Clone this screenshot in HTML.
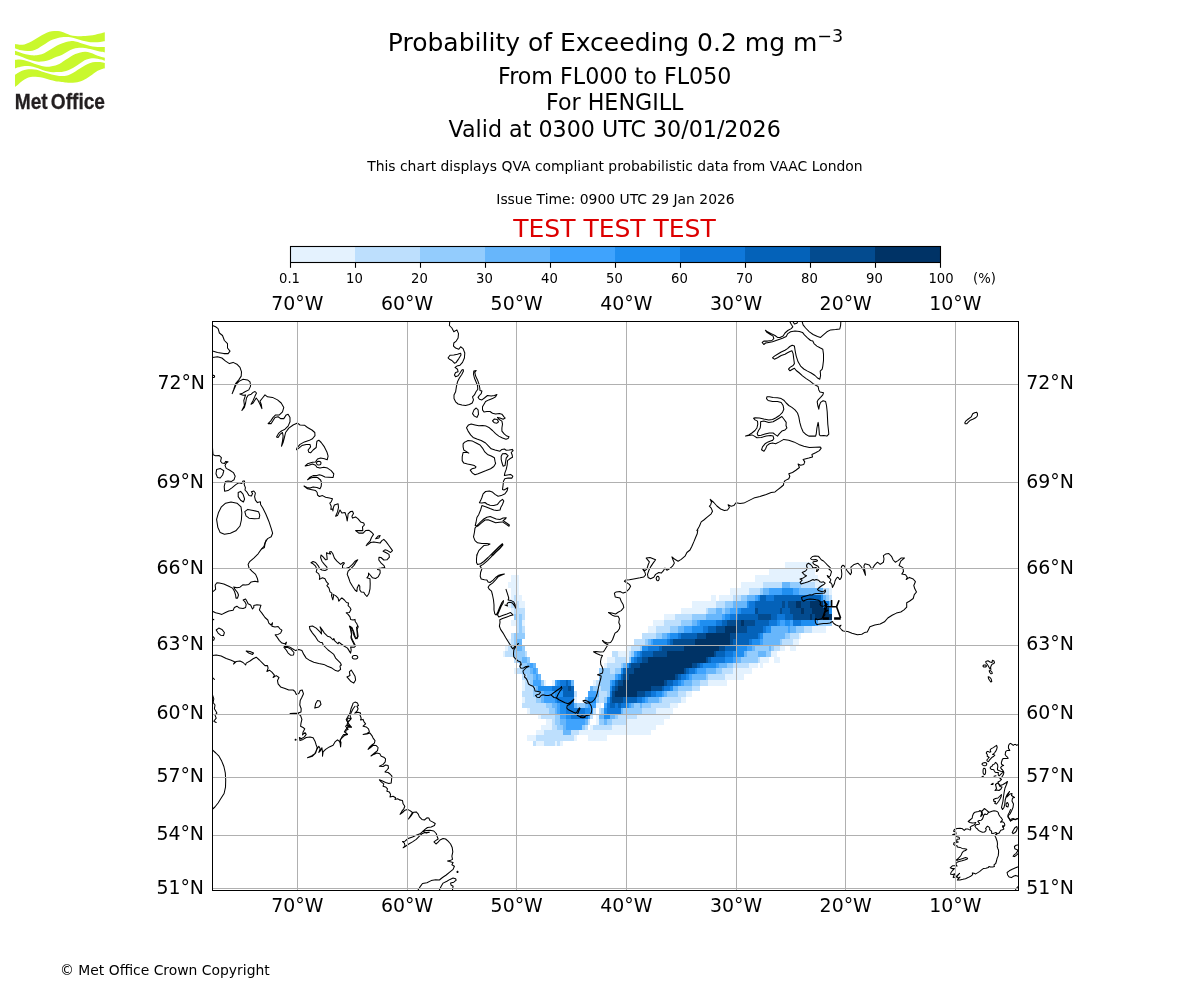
<!DOCTYPE html>
<html lang="en"><head><meta charset="utf-8"><title>Probability of Exceeding 0.2 mg m-3</title>
<style>
html,body{margin:0;padding:0;background:#fff;}
body{width:1200px;height:1000px;overflow:hidden;}
svg{display:block;}
text{font-family:"DejaVu Sans", "Liberation Sans", sans-serif;fill:#000;}
.c{text-anchor:middle;}
.r{text-anchor:end;}
.t1{font-size:25px;}
.t2{font-size:22.2px;}
.t3{font-size:13.9px;}
.tk{font-size:13.2px;}
.ax{font-size:18.9px;}
.grid line{stroke:#b0b0b0;stroke-width:1;}
.coast path{fill:none;stroke:#000;stroke-width:1.05;stroke-linejoin:round;stroke-linecap:round;}
</style></head><body>
<svg width="1200" height="1000" viewBox="0 0 1200 1000">
<rect width="1200" height="1000" fill="#fff"/>
<path d="M14.98 44.12C15.72 44.22 17.87 44.69 19.44 44.74C21.01 44.79 22.75 44.79 24.40 44.43C26.05 44.07 27.71 43.34 29.36 42.57C31.01 41.79 32.67 40.76 34.32 39.78C35.97 38.80 37.63 37.66 39.28 36.68C40.93 35.70 42.58 34.70 44.24 33.89C45.89 33.08 47.54 32.33 49.20 31.84C50.85 31.36 52.69 31.10 54.16 30.98C55.62 30.85 56.74 30.96 58.00 31.10C59.26 31.24 60.38 31.43 61.72 31.84C63.06 32.26 64.61 33.03 66.06 33.58C67.51 34.13 68.85 34.74 70.40 35.13C71.95 35.52 73.71 35.76 75.36 35.94C77.01 36.11 78.67 36.16 80.32 36.18C81.97 36.20 83.63 36.16 85.28 36.06C86.93 35.96 88.58 35.79 90.24 35.56C91.89 35.34 93.54 35.03 95.20 34.70C96.85 34.36 98.56 33.97 100.16 33.58C101.76 33.19 104.03 32.55 104.81 32.34L104.81 41.33C104.03 41.43 101.76 41.79 100.16 41.95C98.56 42.10 96.85 42.23 95.20 42.26C93.54 42.29 91.89 42.29 90.24 42.14C88.58 41.98 86.93 41.67 85.28 41.33C83.63 40.99 81.97 40.55 80.32 40.09C78.67 39.62 77.01 39.00 75.36 38.54C73.71 38.07 71.95 37.56 70.40 37.30C68.85 37.04 67.51 37.01 66.06 36.99C64.61 36.97 63.08 37.02 61.72 37.18C60.36 37.33 59.34 37.54 57.88 37.92C56.41 38.30 54.57 38.80 52.92 39.47C51.26 40.14 49.61 40.97 47.96 41.95C46.30 42.93 44.65 44.27 43.00 45.36C41.34 46.44 39.79 47.58 38.04 48.46C36.28 49.34 34.22 50.19 32.46 50.63C30.70 51.06 29.36 51.11 27.50 51.06C25.64 51.01 23.39 50.80 21.30 50.32C19.21 49.83 16.03 48.51 14.98 48.15ZM14.98 50.63C15.82 50.94 18.28 51.87 20.06 52.49C21.84 53.11 23.78 53.88 25.64 54.35C27.50 54.81 29.36 55.12 31.22 55.28C33.08 55.43 35.04 55.43 36.80 55.28C38.56 55.12 40.10 54.92 41.76 54.35C43.41 53.78 45.06 52.80 46.72 51.87C48.37 50.94 50.02 49.80 51.68 48.77C53.33 47.74 54.96 46.55 56.64 45.67C58.31 44.79 60.15 44.12 61.72 43.50C63.29 42.88 64.61 42.34 66.06 41.95C67.51 41.56 68.85 41.22 70.40 41.14C71.95 41.07 73.71 41.23 75.36 41.52C77.01 41.80 78.67 42.36 80.32 42.88C81.97 43.40 83.63 44.10 85.28 44.62C86.93 45.13 88.58 45.63 90.24 45.98C91.89 46.33 93.54 46.56 95.20 46.72C96.85 46.89 98.56 46.94 100.16 46.97C101.76 47.00 104.03 46.92 104.81 46.91L104.81 52.49C104.24 52.39 102.59 52.11 101.40 51.87C100.21 51.63 98.92 51.37 97.68 51.06C96.44 50.75 95.20 50.34 93.96 50.01C92.72 49.68 91.48 49.39 90.24 49.08C89.00 48.77 87.76 48.38 86.52 48.15C85.28 47.92 84.04 47.79 82.80 47.71C81.56 47.64 80.32 47.61 79.08 47.71C77.84 47.82 76.81 47.95 75.36 48.33C73.91 48.72 71.95 49.32 70.40 50.01C68.85 50.70 67.51 51.66 66.06 52.49C64.61 53.32 63.29 54.25 61.72 54.97C60.15 55.69 58.31 56.16 56.64 56.83C54.96 57.50 53.33 58.33 51.68 59.00C50.02 59.67 48.37 60.42 46.72 60.86C45.06 61.29 43.41 61.50 41.76 61.60C40.10 61.71 38.56 61.71 36.80 61.48C35.04 61.25 33.08 60.75 31.22 60.24C29.36 59.72 27.50 59.05 25.64 58.38C23.78 57.71 21.84 56.81 20.06 56.21C18.28 55.61 15.82 55.02 14.98 54.78ZM14.98 59.93C15.72 59.88 17.87 59.57 19.44 59.62C21.01 59.67 22.75 59.88 24.40 60.24C26.05 60.60 27.71 61.22 29.36 61.79C31.01 62.36 32.67 63.08 34.32 63.65C35.97 64.22 37.63 64.73 39.28 65.20C40.93 65.66 42.58 66.18 44.24 66.44C45.89 66.70 47.54 66.85 49.20 66.75C50.85 66.64 52.50 66.28 54.16 65.82C55.81 65.35 57.86 64.53 59.12 63.96C60.38 63.39 60.56 63.13 61.72 62.41C62.88 61.68 64.61 60.55 66.06 59.62C67.51 58.69 68.85 57.76 70.40 56.83C71.95 55.90 73.71 54.76 75.36 54.04C77.01 53.32 78.67 52.85 80.32 52.49C81.97 52.13 83.63 51.82 85.28 51.87C86.93 51.92 88.58 52.33 90.24 52.80C91.89 53.26 93.54 54.04 95.20 54.66C96.85 55.28 98.56 56.00 100.16 56.52C101.76 57.03 104.03 57.55 104.81 57.76L104.81 60.86C104.24 60.65 102.59 59.98 101.40 59.62C100.21 59.26 98.92 58.92 97.68 58.69C96.44 58.46 95.20 58.29 93.96 58.25C92.72 58.22 91.48 58.27 90.24 58.50C89.00 58.73 87.76 59.12 86.52 59.62C85.28 60.11 84.04 60.75 82.80 61.48C81.56 62.20 80.32 63.13 79.08 63.96C77.84 64.78 76.81 65.56 75.36 66.44C73.91 67.32 71.95 68.45 70.40 69.23C68.85 70.00 67.51 70.64 66.06 71.09C64.61 71.53 63.08 71.74 61.72 71.89C60.36 72.05 59.34 71.98 57.88 72.02C56.41 72.06 54.57 72.24 52.92 72.14C51.26 72.04 49.61 71.73 47.96 71.40C46.30 71.07 44.65 70.67 43.00 70.16C41.34 69.64 39.69 68.87 38.04 68.30C36.39 67.73 34.73 67.14 33.08 66.75C31.43 66.36 29.77 66.05 28.12 65.94C26.47 65.84 24.81 65.89 23.16 66.13C21.51 66.37 19.56 66.95 18.20 67.37C16.84 67.78 15.51 68.40 14.98 68.61ZM14.98 74.81C15.51 74.45 17.04 73.31 18.20 72.64C19.36 71.97 20.47 71.31 21.92 70.78C23.37 70.24 25.23 69.67 26.88 69.41C28.53 69.16 30.19 69.16 31.84 69.23C33.49 69.30 35.15 69.49 36.80 69.85C38.45 70.21 40.10 70.88 41.76 71.40C43.41 71.91 45.06 72.43 46.72 72.95C48.37 73.46 50.02 74.08 51.68 74.50C53.33 74.91 54.96 75.17 56.64 75.43C58.31 75.69 60.15 76.00 61.72 76.05C63.29 76.10 64.61 76.05 66.06 75.74C67.51 75.43 68.85 74.91 70.40 74.19C71.95 73.46 73.71 72.38 75.36 71.40C77.01 70.42 78.67 69.33 80.32 68.30C81.97 67.26 83.63 66.08 85.28 65.20C86.93 64.32 88.58 63.54 90.24 63.03C91.89 62.51 93.54 62.25 95.20 62.10C96.85 61.94 98.56 61.94 100.16 62.10C101.76 62.25 104.03 62.87 104.81 63.03L104.81 68.30C104.24 68.45 102.59 68.81 101.40 69.23C100.21 69.64 98.92 70.11 97.68 70.78C96.44 71.45 95.20 72.38 93.96 73.26C92.72 74.14 91.48 75.17 90.24 76.05C89.00 76.93 87.76 77.80 86.52 78.53C85.28 79.25 84.04 79.84 82.80 80.39C81.56 80.93 80.32 81.45 79.08 81.81C77.84 82.17 76.81 82.38 75.36 82.56C73.91 82.73 71.95 82.87 70.40 82.87C68.85 82.87 67.51 82.71 66.06 82.56C64.61 82.40 63.50 82.16 61.72 81.94C59.94 81.71 57.28 81.50 55.40 81.19C53.52 80.88 52.09 80.52 50.44 80.08C48.78 79.63 47.13 78.99 45.48 78.53C43.82 78.06 42.17 77.60 40.52 77.29C38.87 76.98 37.21 76.72 35.56 76.67C33.91 76.62 32.15 76.67 30.60 76.98C29.05 77.29 27.71 77.80 26.26 78.53C24.81 79.25 23.26 80.34 21.92 81.32C20.58 82.30 19.36 83.49 18.20 84.42C17.04 85.35 15.51 86.48 14.98 86.90Z" fill="#c9f82d"/>
<text x='14.7' y='108.9' style="font-family:'Liberation Sans','DejaVu Sans',sans-serif;font-weight:bold;font-size:21.6px;fill:#231f20;stroke:#231f20;stroke-width:0.3px;word-spacing:-2.5px" textLength='90.3' lengthAdjust='spacingAndGlyphs'>Met Office</text>
<text class="c t1" x="615.5" y="51">Probability of Exceeding 0.2 mg m<tspan dy="-9.5" font-size="17.5px">−3</tspan></text>
<text class="c t2" x="614.7" y="83.6">From FL000 to FL050</text>
<text class="c t2" x="614.7" y="109.6">For HENGILL</text>
<text class="c t2" x="614.7" y="137.3">Valid at 0300 UTC 30/01/2026</text>
<text class="c t3" x="614.9" y="171">This chart displays QVA compliant probabilistic data from VAAC London</text>
<text class="c t3" x="615.5" y="204">Issue Time: 0900 UTC 29 Jan 2026</text>
<text class="c t1" x="614.5" y="237" style="fill:#dd0000">TEST TEST TEST</text>
<g shape-rendering="crispEdges"><rect x="290.0" y="246.5" width="66.0" height="16.0" fill="#e4f2fe"/><rect x="355.0" y="246.5" width="66.0" height="16.0" fill="#bddffd"/><rect x="420.0" y="246.5" width="66.0" height="16.0" fill="#93ccfd"/><rect x="485.0" y="246.5" width="66.0" height="16.0" fill="#67b6fb"/><rect x="550.0" y="246.5" width="66.0" height="16.0" fill="#3fa3fd"/><rect x="615.0" y="246.5" width="66.0" height="16.0" fill="#1f8ef0"/><rect x="680.0" y="246.5" width="66.0" height="16.0" fill="#0f78da"/><rect x="745.0" y="246.5" width="66.0" height="16.0" fill="#0462b9"/><rect x="810.0" y="246.5" width="66.0" height="16.0" fill="#034b8f"/><rect x="875.0" y="246.5" width="66.0" height="16.0" fill="#003366"/></g>
<rect x="290.5" y="246.5" width="650.0" height="16.0" fill="none" stroke="#000" stroke-width="1.1"/>
<line x1="290.5" y1="262.5" x2="290.5" y2="267.8" stroke="#000" stroke-width="1.1"/><text class="c tk" x="289.5" y="282.8">0.1</text>
<line x1="355.5" y1="262.5" x2="355.5" y2="267.8" stroke="#000" stroke-width="1.1"/><text class="c tk" x="354.5" y="282.8">10</text>
<line x1="420.5" y1="262.5" x2="420.5" y2="267.8" stroke="#000" stroke-width="1.1"/><text class="c tk" x="419.5" y="282.8">20</text>
<line x1="485.5" y1="262.5" x2="485.5" y2="267.8" stroke="#000" stroke-width="1.1"/><text class="c tk" x="484.5" y="282.8">30</text>
<line x1="550.5" y1="262.5" x2="550.5" y2="267.8" stroke="#000" stroke-width="1.1"/><text class="c tk" x="549.5" y="282.8">40</text>
<line x1="615.5" y1="262.5" x2="615.5" y2="267.8" stroke="#000" stroke-width="1.1"/><text class="c tk" x="614.5" y="282.8">50</text>
<line x1="680.5" y1="262.5" x2="680.5" y2="267.8" stroke="#000" stroke-width="1.1"/><text class="c tk" x="679.5" y="282.8">60</text>
<line x1="745.5" y1="262.5" x2="745.5" y2="267.8" stroke="#000" stroke-width="1.1"/><text class="c tk" x="744.5" y="282.8">70</text>
<line x1="810.5" y1="262.5" x2="810.5" y2="267.8" stroke="#000" stroke-width="1.1"/><text class="c tk" x="809.5" y="282.8">80</text>
<line x1="875.5" y1="262.5" x2="875.5" y2="267.8" stroke="#000" stroke-width="1.1"/><text class="c tk" x="874.5" y="282.8">90</text>
<line x1="940.5" y1="262.5" x2="940.5" y2="267.8" stroke="#000" stroke-width="1.1"/><text class="c tk" x="941.0" y="282.8">100</text>
<text class="tk" x="973" y="282.8">(%)</text>
<clipPath id="mapclip"><rect x="212.5" y="321.5" width="806.0" height="569.0"/></clipPath>
<g clip-path="url(#mapclip)" shape-rendering="crispEdges"><rect x="533" y="741" width="3" height="5" fill="#bddffd"/><rect x="536" y="741" width="8" height="5" fill="#e4f2fe"/><rect x="544" y="741" width="11" height="5" fill="#bddffd"/><rect x="555" y="741" width="2" height="5" fill="#e4f2fe"/><rect x="557" y="741" width="3" height="5" fill="#bddffd"/><rect x="560" y="741" width="3" height="5" fill="#e4f2fe"/><rect x="527" y="735" width="9" height="6" fill="#e4f2fe"/><rect x="536" y="735" width="38" height="6" fill="#bddffd"/><rect x="574" y="735" width="3" height="6" fill="#e4f2fe"/><rect x="588" y="735" width="19" height="6" fill="#e4f2fe"/><rect x="536" y="730" width="8" height="5" fill="#e4f2fe"/><rect x="544" y="730" width="19" height="5" fill="#bddffd"/><rect x="563" y="730" width="8" height="5" fill="#67b6fb"/><rect x="571" y="730" width="8" height="5" fill="#bddffd"/><rect x="579" y="730" width="72" height="5" fill="#e4f2fe"/><rect x="541" y="725" width="11" height="5" fill="#e4f2fe"/><rect x="552" y="725" width="5" height="5" fill="#bddffd"/><rect x="557" y="725" width="6" height="5" fill="#93ccfd"/><rect x="563" y="725" width="3" height="5" fill="#67b6fb"/><rect x="566" y="725" width="16" height="5" fill="#3fa3fd"/><rect x="582" y="725" width="3" height="5" fill="#93ccfd"/><rect x="585" y="725" width="3" height="5" fill="#bddffd"/><rect x="590" y="725" width="3" height="5" fill="#e4f2fe"/><rect x="593" y="725" width="19" height="5" fill="#bddffd"/><rect x="612" y="725" width="44" height="5" fill="#e4f2fe"/><rect x="546" y="719" width="6" height="6" fill="#e4f2fe"/><rect x="552" y="719" width="3" height="6" fill="#bddffd"/><rect x="555" y="719" width="5" height="6" fill="#93ccfd"/><rect x="560" y="719" width="6" height="6" fill="#67b6fb"/><rect x="566" y="719" width="19" height="6" fill="#3fa3fd"/><rect x="585" y="719" width="3" height="6" fill="#67b6fb"/><rect x="588" y="719" width="2" height="6" fill="#bddffd"/><rect x="596" y="719" width="3" height="6" fill="#e4f2fe"/><rect x="599" y="719" width="5" height="6" fill="#93ccfd"/><rect x="604" y="719" width="3" height="6" fill="#67b6fb"/><rect x="607" y="719" width="5" height="6" fill="#93ccfd"/><rect x="612" y="719" width="14" height="6" fill="#bddffd"/><rect x="626" y="719" width="38" height="6" fill="#e4f2fe"/><rect x="538" y="714" width="3" height="5" fill="#e4f2fe"/><rect x="541" y="714" width="14" height="5" fill="#bddffd"/><rect x="555" y="714" width="5" height="5" fill="#93ccfd"/><rect x="560" y="714" width="6" height="5" fill="#3fa3fd"/><rect x="566" y="714" width="5" height="5" fill="#1f8ef0"/><rect x="571" y="714" width="17" height="5" fill="#0f78da"/><rect x="588" y="714" width="2" height="5" fill="#3fa3fd"/><rect x="590" y="714" width="3" height="5" fill="#bddffd"/><rect x="596" y="714" width="3" height="5" fill="#e4f2fe"/><rect x="599" y="714" width="5" height="5" fill="#67b6fb"/><rect x="604" y="714" width="6" height="5" fill="#1f8ef0"/><rect x="610" y="714" width="5" height="5" fill="#67b6fb"/><rect x="615" y="714" width="3" height="5" fill="#93ccfd"/><rect x="618" y="714" width="19" height="5" fill="#bddffd"/><rect x="637" y="714" width="33" height="5" fill="#e4f2fe"/><rect x="527" y="708" width="3" height="6" fill="#e4f2fe"/><rect x="530" y="708" width="19" height="6" fill="#bddffd"/><rect x="549" y="708" width="6" height="6" fill="#93ccfd"/><rect x="555" y="708" width="2" height="6" fill="#67b6fb"/><rect x="557" y="708" width="3" height="6" fill="#3fa3fd"/><rect x="560" y="708" width="6" height="6" fill="#1f8ef0"/><rect x="566" y="708" width="19" height="6" fill="#0f78da"/><rect x="585" y="708" width="5" height="6" fill="#1f8ef0"/><rect x="590" y="708" width="3" height="6" fill="#3fa3fd"/><rect x="593" y="708" width="3" height="6" fill="#bddffd"/><rect x="599" y="708" width="2" height="6" fill="#bddffd"/><rect x="601" y="708" width="3" height="6" fill="#93ccfd"/><rect x="604" y="708" width="3" height="6" fill="#1f8ef0"/><rect x="607" y="708" width="14" height="6" fill="#0f78da"/><rect x="621" y="708" width="2" height="6" fill="#67b6fb"/><rect x="623" y="708" width="19" height="6" fill="#93ccfd"/><rect x="642" y="708" width="14" height="6" fill="#bddffd"/><rect x="656" y="708" width="17" height="6" fill="#e4f2fe"/><rect x="522" y="703" width="24" height="5" fill="#bddffd"/><rect x="546" y="703" width="6" height="5" fill="#93ccfd"/><rect x="552" y="703" width="5" height="5" fill="#67b6fb"/><rect x="557" y="703" width="3" height="5" fill="#3fa3fd"/><rect x="560" y="703" width="8" height="5" fill="#1f8ef0"/><rect x="568" y="703" width="6" height="5" fill="#0f78da"/><rect x="574" y="703" width="3" height="5" fill="#67b6fb"/><rect x="577" y="703" width="8" height="5" fill="#93ccfd"/><rect x="585" y="703" width="3" height="5" fill="#67b6fb"/><rect x="588" y="703" width="8" height="5" fill="#3fa3fd"/><rect x="596" y="703" width="5" height="5" fill="#e4f2fe"/><rect x="604" y="703" width="3" height="5" fill="#3fa3fd"/><rect x="607" y="703" width="3" height="5" fill="#0f78da"/><rect x="610" y="703" width="5" height="5" fill="#0462b9"/><rect x="615" y="703" width="3" height="5" fill="#0f78da"/><rect x="618" y="703" width="3" height="5" fill="#0462b9"/><rect x="621" y="703" width="5" height="5" fill="#0f78da"/><rect x="626" y="703" width="3" height="5" fill="#1f8ef0"/><rect x="629" y="703" width="2" height="5" fill="#3fa3fd"/><rect x="631" y="703" width="3" height="5" fill="#67b6fb"/><rect x="634" y="703" width="6" height="5" fill="#93ccfd"/><rect x="640" y="703" width="2" height="5" fill="#67b6fb"/><rect x="642" y="703" width="9" height="5" fill="#93ccfd"/><rect x="651" y="703" width="19" height="5" fill="#bddffd"/><rect x="670" y="703" width="8" height="5" fill="#e4f2fe"/><rect x="522" y="697" width="3" height="6" fill="#e4f2fe"/><rect x="525" y="697" width="11" height="6" fill="#bddffd"/><rect x="536" y="697" width="5" height="6" fill="#93ccfd"/><rect x="541" y="697" width="3" height="6" fill="#67b6fb"/><rect x="544" y="697" width="11" height="6" fill="#3fa3fd"/><rect x="555" y="697" width="2" height="6" fill="#1f8ef0"/><rect x="557" y="697" width="17" height="6" fill="#0f78da"/><rect x="574" y="697" width="3" height="6" fill="#e4f2fe"/><rect x="585" y="697" width="3" height="6" fill="#67b6fb"/><rect x="588" y="697" width="8" height="6" fill="#1f8ef0"/><rect x="596" y="697" width="3" height="6" fill="#93ccfd"/><rect x="599" y="697" width="5" height="6" fill="#bddffd"/><rect x="604" y="697" width="3" height="6" fill="#93ccfd"/><rect x="607" y="697" width="3" height="6" fill="#1f8ef0"/><rect x="610" y="697" width="2" height="6" fill="#0462b9"/><rect x="612" y="697" width="11" height="6" fill="#034b8f"/><rect x="623" y="697" width="14" height="6" fill="#0462b9"/><rect x="637" y="697" width="5" height="6" fill="#0f78da"/><rect x="642" y="697" width="3" height="6" fill="#1f8ef0"/><rect x="645" y="697" width="3" height="6" fill="#3fa3fd"/><rect x="648" y="697" width="11" height="6" fill="#67b6fb"/><rect x="659" y="697" width="3" height="6" fill="#93ccfd"/><rect x="662" y="697" width="19" height="6" fill="#bddffd"/><rect x="681" y="697" width="5" height="6" fill="#e4f2fe"/><rect x="522" y="691" width="11" height="6" fill="#bddffd"/><rect x="533" y="691" width="8" height="6" fill="#93ccfd"/><rect x="541" y="691" width="3" height="6" fill="#67b6fb"/><rect x="544" y="691" width="11" height="6" fill="#3fa3fd"/><rect x="555" y="691" width="8" height="6" fill="#1f8ef0"/><rect x="563" y="691" width="11" height="6" fill="#0462b9"/><rect x="574" y="691" width="3" height="6" fill="#bddffd"/><rect x="588" y="691" width="8" height="6" fill="#3fa3fd"/><rect x="596" y="691" width="3" height="6" fill="#67b6fb"/><rect x="599" y="691" width="8" height="6" fill="#bddffd"/><rect x="607" y="691" width="3" height="6" fill="#93ccfd"/><rect x="610" y="691" width="2" height="6" fill="#0f78da"/><rect x="612" y="691" width="3" height="6" fill="#034b8f"/><rect x="615" y="691" width="22" height="6" fill="#003366"/><rect x="637" y="691" width="8" height="6" fill="#034b8f"/><rect x="645" y="691" width="6" height="6" fill="#0462b9"/><rect x="651" y="691" width="5" height="6" fill="#0f78da"/><rect x="656" y="691" width="6" height="6" fill="#1f8ef0"/><rect x="662" y="691" width="2" height="6" fill="#3fa3fd"/><rect x="664" y="691" width="3" height="6" fill="#67b6fb"/><rect x="667" y="691" width="11" height="6" fill="#93ccfd"/><rect x="678" y="691" width="8" height="6" fill="#bddffd"/><rect x="686" y="691" width="6" height="6" fill="#e4f2fe"/><rect x="522" y="686" width="3" height="5" fill="#e4f2fe"/><rect x="525" y="686" width="8" height="5" fill="#bddffd"/><rect x="533" y="686" width="3" height="5" fill="#93ccfd"/><rect x="536" y="686" width="2" height="5" fill="#67b6fb"/><rect x="538" y="686" width="14" height="5" fill="#1f8ef0"/><rect x="552" y="686" width="11" height="5" fill="#0f78da"/><rect x="563" y="686" width="5" height="5" fill="#0462b9"/><rect x="568" y="686" width="3" height="5" fill="#034b8f"/><rect x="571" y="686" width="3" height="5" fill="#0462b9"/><rect x="590" y="686" width="3" height="5" fill="#67b6fb"/><rect x="593" y="686" width="6" height="5" fill="#93ccfd"/><rect x="599" y="686" width="2" height="5" fill="#bddffd"/><rect x="601" y="686" width="9" height="5" fill="#93ccfd"/><rect x="610" y="686" width="2" height="5" fill="#1f8ef0"/><rect x="612" y="686" width="3" height="5" fill="#0462b9"/><rect x="615" y="686" width="3" height="5" fill="#034b8f"/><rect x="618" y="686" width="33" height="5" fill="#003366"/><rect x="651" y="686" width="11" height="5" fill="#034b8f"/><rect x="662" y="686" width="2" height="5" fill="#0462b9"/><rect x="664" y="686" width="6" height="5" fill="#0f78da"/><rect x="670" y="686" width="3" height="5" fill="#1f8ef0"/><rect x="673" y="686" width="5" height="5" fill="#67b6fb"/><rect x="678" y="686" width="14" height="5" fill="#93ccfd"/><rect x="692" y="686" width="8" height="5" fill="#bddffd"/><rect x="522" y="680" width="3" height="6" fill="#e4f2fe"/><rect x="525" y="680" width="5" height="6" fill="#bddffd"/><rect x="530" y="680" width="3" height="6" fill="#93ccfd"/><rect x="533" y="680" width="8" height="6" fill="#3fa3fd"/><rect x="541" y="680" width="3" height="6" fill="#93ccfd"/><rect x="544" y="680" width="2" height="6" fill="#e4f2fe"/><rect x="552" y="680" width="3" height="6" fill="#e4f2fe"/><rect x="555" y="680" width="2" height="6" fill="#3fa3fd"/><rect x="557" y="680" width="3" height="6" fill="#1f8ef0"/><rect x="560" y="680" width="6" height="6" fill="#0f78da"/><rect x="566" y="680" width="2" height="6" fill="#0462b9"/><rect x="568" y="680" width="3" height="6" fill="#0f78da"/><rect x="571" y="680" width="3" height="6" fill="#67b6fb"/><rect x="593" y="680" width="3" height="6" fill="#e4f2fe"/><rect x="596" y="680" width="3" height="6" fill="#bddffd"/><rect x="599" y="680" width="11" height="6" fill="#93ccfd"/><rect x="610" y="680" width="2" height="6" fill="#3fa3fd"/><rect x="612" y="680" width="3" height="6" fill="#1f8ef0"/><rect x="615" y="680" width="3" height="6" fill="#0462b9"/><rect x="618" y="680" width="5" height="6" fill="#034b8f"/><rect x="623" y="680" width="41" height="6" fill="#003366"/><rect x="664" y="680" width="3" height="6" fill="#034b8f"/><rect x="667" y="680" width="6" height="6" fill="#0462b9"/><rect x="673" y="680" width="5" height="6" fill="#0f78da"/><rect x="678" y="680" width="3" height="6" fill="#1f8ef0"/><rect x="681" y="680" width="3" height="6" fill="#3fa3fd"/><rect x="684" y="680" width="8" height="6" fill="#67b6fb"/><rect x="692" y="680" width="8" height="6" fill="#93ccfd"/><rect x="700" y="680" width="8" height="6" fill="#bddffd"/><rect x="708" y="680" width="19" height="6" fill="#e4f2fe"/><rect x="522" y="674" width="5" height="6" fill="#bddffd"/><rect x="527" y="674" width="6" height="6" fill="#93ccfd"/><rect x="533" y="674" width="3" height="6" fill="#67b6fb"/><rect x="536" y="674" width="2" height="6" fill="#3fa3fd"/><rect x="538" y="674" width="3" height="6" fill="#67b6fb"/><rect x="599" y="674" width="16" height="6" fill="#93ccfd"/><rect x="615" y="674" width="3" height="6" fill="#3fa3fd"/><rect x="618" y="674" width="3" height="6" fill="#1f8ef0"/><rect x="621" y="674" width="2" height="6" fill="#0462b9"/><rect x="623" y="674" width="6" height="6" fill="#034b8f"/><rect x="629" y="674" width="46" height="6" fill="#003366"/><rect x="675" y="674" width="3" height="6" fill="#034b8f"/><rect x="678" y="674" width="3" height="6" fill="#0462b9"/><rect x="681" y="674" width="5" height="6" fill="#0f78da"/><rect x="686" y="674" width="3" height="6" fill="#1f8ef0"/><rect x="689" y="674" width="3" height="6" fill="#3fa3fd"/><rect x="692" y="674" width="14" height="6" fill="#67b6fb"/><rect x="706" y="674" width="2" height="6" fill="#93ccfd"/><rect x="708" y="674" width="17" height="6" fill="#bddffd"/><rect x="725" y="674" width="19" height="6" fill="#e4f2fe"/><rect x="514" y="668" width="2" height="6" fill="#e4f2fe"/><rect x="516" y="668" width="6" height="6" fill="#bddffd"/><rect x="522" y="668" width="8" height="6" fill="#93ccfd"/><rect x="530" y="668" width="3" height="6" fill="#67b6fb"/><rect x="533" y="668" width="3" height="6" fill="#3fa3fd"/><rect x="536" y="668" width="2" height="6" fill="#67b6fb"/><rect x="599" y="668" width="11" height="6" fill="#93ccfd"/><rect x="610" y="668" width="5" height="6" fill="#bddffd"/><rect x="615" y="668" width="6" height="6" fill="#93ccfd"/><rect x="621" y="668" width="2" height="6" fill="#1f8ef0"/><rect x="623" y="668" width="3" height="6" fill="#0462b9"/><rect x="626" y="668" width="8" height="6" fill="#034b8f"/><rect x="634" y="668" width="50" height="6" fill="#003366"/><rect x="684" y="668" width="2" height="6" fill="#034b8f"/><rect x="686" y="668" width="3" height="6" fill="#0462b9"/><rect x="689" y="668" width="6" height="6" fill="#0f78da"/><rect x="695" y="668" width="2" height="6" fill="#1f8ef0"/><rect x="697" y="668" width="9" height="6" fill="#3fa3fd"/><rect x="706" y="668" width="10" height="6" fill="#67b6fb"/><rect x="716" y="668" width="6" height="6" fill="#93ccfd"/><rect x="722" y="668" width="11" height="6" fill="#bddffd"/><rect x="733" y="668" width="19" height="6" fill="#e4f2fe"/><rect x="519" y="663" width="3" height="5" fill="#bddffd"/><rect x="522" y="663" width="5" height="5" fill="#93ccfd"/><rect x="527" y="663" width="3" height="5" fill="#67b6fb"/><rect x="530" y="663" width="3" height="5" fill="#3fa3fd"/><rect x="533" y="663" width="3" height="5" fill="#67b6fb"/><rect x="604" y="663" width="3" height="5" fill="#e4f2fe"/><rect x="607" y="663" width="14" height="5" fill="#bddffd"/><rect x="621" y="663" width="2" height="5" fill="#93ccfd"/><rect x="623" y="663" width="3" height="5" fill="#67b6fb"/><rect x="626" y="663" width="3" height="5" fill="#1f8ef0"/><rect x="629" y="663" width="2" height="5" fill="#0462b9"/><rect x="631" y="663" width="9" height="5" fill="#034b8f"/><rect x="640" y="663" width="52" height="5" fill="#003366"/><rect x="692" y="663" width="5" height="5" fill="#034b8f"/><rect x="697" y="663" width="3" height="5" fill="#0462b9"/><rect x="700" y="663" width="3" height="5" fill="#0f78da"/><rect x="703" y="663" width="13" height="5" fill="#1f8ef0"/><rect x="716" y="663" width="3" height="5" fill="#3fa3fd"/><rect x="719" y="663" width="8" height="5" fill="#67b6fb"/><rect x="727" y="663" width="6" height="5" fill="#93ccfd"/><rect x="733" y="663" width="16" height="5" fill="#bddffd"/><rect x="749" y="663" width="9" height="5" fill="#e4f2fe"/><rect x="760" y="663" width="3" height="5" fill="#e4f2fe"/><rect x="514" y="657" width="2" height="6" fill="#bddffd"/><rect x="516" y="657" width="6" height="6" fill="#93ccfd"/><rect x="522" y="657" width="5" height="6" fill="#67b6fb"/><rect x="527" y="657" width="3" height="6" fill="#93ccfd"/><rect x="607" y="657" width="8" height="6" fill="#e4f2fe"/><rect x="615" y="657" width="11" height="6" fill="#bddffd"/><rect x="626" y="657" width="3" height="6" fill="#e4f2fe"/><rect x="629" y="657" width="2" height="6" fill="#93ccfd"/><rect x="631" y="657" width="3" height="6" fill="#1f8ef0"/><rect x="634" y="657" width="3" height="6" fill="#0f78da"/><rect x="637" y="657" width="5" height="6" fill="#0462b9"/><rect x="642" y="657" width="6" height="6" fill="#034b8f"/><rect x="648" y="657" width="58" height="6" fill="#003366"/><rect x="706" y="657" width="2" height="6" fill="#034b8f"/><rect x="708" y="657" width="3" height="6" fill="#0462b9"/><rect x="711" y="657" width="14" height="6" fill="#0f78da"/><rect x="725" y="657" width="8" height="6" fill="#1f8ef0"/><rect x="733" y="657" width="3" height="6" fill="#3fa3fd"/><rect x="736" y="657" width="5" height="6" fill="#67b6fb"/><rect x="741" y="657" width="17" height="6" fill="#93ccfd"/><rect x="758" y="657" width="2" height="6" fill="#bddffd"/><rect x="760" y="657" width="9" height="6" fill="#e4f2fe"/><rect x="774" y="657" width="6" height="6" fill="#e4f2fe"/><rect x="503" y="651" width="2" height="6" fill="#e4f2fe"/><rect x="505" y="651" width="9" height="6" fill="#bddffd"/><rect x="514" y="651" width="11" height="6" fill="#93ccfd"/><rect x="525" y="651" width="2" height="6" fill="#bddffd"/><rect x="612" y="651" width="6" height="6" fill="#bddffd"/><rect x="618" y="651" width="11" height="6" fill="#e4f2fe"/><rect x="629" y="651" width="2" height="6" fill="#bddffd"/><rect x="631" y="651" width="3" height="6" fill="#93ccfd"/><rect x="634" y="651" width="3" height="6" fill="#3fa3fd"/><rect x="637" y="651" width="3" height="6" fill="#1f8ef0"/><rect x="640" y="651" width="2" height="6" fill="#0f78da"/><rect x="642" y="651" width="11" height="6" fill="#0462b9"/><rect x="653" y="651" width="14" height="6" fill="#034b8f"/><rect x="667" y="651" width="47" height="6" fill="#003366"/><rect x="714" y="651" width="2" height="6" fill="#034b8f"/><rect x="716" y="651" width="9" height="6" fill="#0462b9"/><rect x="725" y="651" width="8" height="6" fill="#0f78da"/><rect x="733" y="651" width="11" height="6" fill="#1f8ef0"/><rect x="744" y="651" width="3" height="6" fill="#67b6fb"/><rect x="747" y="651" width="11" height="6" fill="#93ccfd"/><rect x="758" y="651" width="8" height="6" fill="#67b6fb"/><rect x="766" y="651" width="5" height="6" fill="#93ccfd"/><rect x="771" y="651" width="6" height="6" fill="#e4f2fe"/><rect x="505" y="645" width="3" height="6" fill="#e4f2fe"/><rect x="508" y="645" width="6" height="6" fill="#bddffd"/><rect x="514" y="645" width="2" height="6" fill="#93ccfd"/><rect x="516" y="645" width="6" height="6" fill="#67b6fb"/><rect x="522" y="645" width="3" height="6" fill="#93ccfd"/><rect x="626" y="645" width="5" height="6" fill="#e4f2fe"/><rect x="631" y="645" width="9" height="6" fill="#bddffd"/><rect x="640" y="645" width="2" height="6" fill="#93ccfd"/><rect x="642" y="645" width="6" height="6" fill="#1f8ef0"/><rect x="648" y="645" width="11" height="6" fill="#0f78da"/><rect x="659" y="645" width="3" height="6" fill="#0462b9"/><rect x="662" y="645" width="22" height="6" fill="#034b8f"/><rect x="684" y="645" width="35" height="6" fill="#003366"/><rect x="719" y="645" width="6" height="6" fill="#034b8f"/><rect x="725" y="645" width="11" height="6" fill="#0462b9"/><rect x="736" y="645" width="11" height="6" fill="#1f8ef0"/><rect x="747" y="645" width="5" height="6" fill="#3fa3fd"/><rect x="752" y="645" width="3" height="6" fill="#67b6fb"/><rect x="755" y="645" width="14" height="6" fill="#93ccfd"/><rect x="769" y="645" width="2" height="6" fill="#67b6fb"/><rect x="771" y="645" width="3" height="6" fill="#93ccfd"/><rect x="774" y="645" width="6" height="6" fill="#bddffd"/><rect x="780" y="645" width="5" height="6" fill="#e4f2fe"/><rect x="790" y="645" width="6" height="6" fill="#e4f2fe"/><rect x="508" y="639" width="3" height="6" fill="#e4f2fe"/><rect x="511" y="639" width="3" height="6" fill="#bddffd"/><rect x="514" y="639" width="2" height="6" fill="#93ccfd"/><rect x="516" y="639" width="6" height="6" fill="#67b6fb"/><rect x="634" y="639" width="11" height="6" fill="#bddffd"/><rect x="645" y="639" width="3" height="6" fill="#93ccfd"/><rect x="648" y="639" width="3" height="6" fill="#67b6fb"/><rect x="651" y="639" width="2" height="6" fill="#3fa3fd"/><rect x="653" y="639" width="14" height="6" fill="#1f8ef0"/><rect x="667" y="639" width="3" height="6" fill="#0f78da"/><rect x="670" y="639" width="3" height="6" fill="#0462b9"/><rect x="673" y="639" width="22" height="6" fill="#034b8f"/><rect x="695" y="639" width="35" height="6" fill="#003366"/><rect x="730" y="639" width="3" height="6" fill="#034b8f"/><rect x="733" y="639" width="16" height="6" fill="#0462b9"/><rect x="749" y="639" width="3" height="6" fill="#0f78da"/><rect x="752" y="639" width="8" height="6" fill="#1f8ef0"/><rect x="760" y="639" width="3" height="6" fill="#3fa3fd"/><rect x="763" y="639" width="17" height="6" fill="#67b6fb"/><rect x="780" y="639" width="2" height="6" fill="#93ccfd"/><rect x="782" y="639" width="11" height="6" fill="#bddffd"/><rect x="793" y="639" width="6" height="6" fill="#e4f2fe"/><rect x="511" y="633" width="3" height="6" fill="#bddffd"/><rect x="514" y="633" width="11" height="6" fill="#93ccfd"/><rect x="642" y="633" width="14" height="6" fill="#bddffd"/><rect x="656" y="633" width="6" height="6" fill="#93ccfd"/><rect x="662" y="633" width="5" height="6" fill="#67b6fb"/><rect x="667" y="633" width="3" height="6" fill="#3fa3fd"/><rect x="670" y="633" width="8" height="6" fill="#1f8ef0"/><rect x="678" y="633" width="3" height="6" fill="#0f78da"/><rect x="681" y="633" width="16" height="6" fill="#0462b9"/><rect x="697" y="633" width="9" height="6" fill="#034b8f"/><rect x="706" y="633" width="24" height="6" fill="#003366"/><rect x="730" y="633" width="6" height="6" fill="#034b8f"/><rect x="736" y="633" width="22" height="6" fill="#0462b9"/><rect x="758" y="633" width="2" height="6" fill="#0f78da"/><rect x="760" y="633" width="3" height="6" fill="#1f8ef0"/><rect x="763" y="633" width="22" height="6" fill="#67b6fb"/><rect x="785" y="633" width="5" height="6" fill="#93ccfd"/><rect x="790" y="633" width="9" height="6" fill="#bddffd"/><rect x="799" y="633" width="2" height="6" fill="#e4f2fe"/><rect x="516" y="626" width="3" height="7" fill="#bddffd"/><rect x="519" y="626" width="3" height="7" fill="#93ccfd"/><rect x="522" y="626" width="3" height="7" fill="#bddffd"/><rect x="648" y="626" width="8" height="7" fill="#e4f2fe"/><rect x="656" y="626" width="14" height="7" fill="#bddffd"/><rect x="670" y="626" width="8" height="7" fill="#93ccfd"/><rect x="678" y="626" width="6" height="7" fill="#67b6fb"/><rect x="684" y="626" width="8" height="7" fill="#3fa3fd"/><rect x="692" y="626" width="11" height="7" fill="#1f8ef0"/><rect x="703" y="626" width="5" height="7" fill="#0f78da"/><rect x="708" y="626" width="8" height="7" fill="#0462b9"/><rect x="716" y="626" width="9" height="7" fill="#034b8f"/><rect x="725" y="626" width="11" height="7" fill="#003366"/><rect x="736" y="626" width="11" height="7" fill="#034b8f"/><rect x="747" y="626" width="16" height="7" fill="#0462b9"/><rect x="763" y="626" width="3" height="7" fill="#0f78da"/><rect x="766" y="626" width="5" height="7" fill="#1f8ef0"/><rect x="771" y="626" width="17" height="7" fill="#67b6fb"/><rect x="788" y="626" width="2" height="7" fill="#3fa3fd"/><rect x="790" y="626" width="6" height="7" fill="#67b6fb"/><rect x="796" y="626" width="8" height="7" fill="#93ccfd"/><rect x="804" y="626" width="8" height="7" fill="#bddffd"/><rect x="812" y="626" width="14" height="7" fill="#e4f2fe"/><rect x="511" y="620" width="5" height="6" fill="#e4f2fe"/><rect x="516" y="620" width="3" height="6" fill="#bddffd"/><rect x="519" y="620" width="3" height="6" fill="#93ccfd"/><rect x="522" y="620" width="3" height="6" fill="#e4f2fe"/><rect x="653" y="620" width="11" height="6" fill="#e4f2fe"/><rect x="664" y="620" width="17" height="6" fill="#bddffd"/><rect x="681" y="620" width="11" height="6" fill="#93ccfd"/><rect x="692" y="620" width="5" height="6" fill="#67b6fb"/><rect x="697" y="620" width="3" height="6" fill="#3fa3fd"/><rect x="700" y="620" width="16" height="6" fill="#1f8ef0"/><rect x="716" y="620" width="6" height="6" fill="#0f78da"/><rect x="722" y="620" width="5" height="6" fill="#0462b9"/><rect x="727" y="620" width="14" height="6" fill="#034b8f"/><rect x="741" y="620" width="3" height="6" fill="#003366"/><rect x="744" y="620" width="11" height="6" fill="#034b8f"/><rect x="755" y="620" width="14" height="6" fill="#0462b9"/><rect x="769" y="620" width="8" height="6" fill="#0f78da"/><rect x="777" y="620" width="3" height="6" fill="#1f8ef0"/><rect x="780" y="620" width="5" height="6" fill="#3fa3fd"/><rect x="785" y="620" width="5" height="6" fill="#1f8ef0"/><rect x="790" y="620" width="3" height="6" fill="#3fa3fd"/><rect x="793" y="620" width="8" height="6" fill="#0f78da"/><rect x="801" y="620" width="14" height="6" fill="#1f8ef0"/><rect x="815" y="620" width="3" height="6" fill="#3fa3fd"/><rect x="818" y="620" width="14" height="6" fill="#93ccfd"/><rect x="514" y="614" width="2" height="6" fill="#93ccfd"/><rect x="516" y="614" width="3" height="6" fill="#bddffd"/><rect x="519" y="614" width="3" height="6" fill="#93ccfd"/><rect x="522" y="614" width="3" height="6" fill="#bddffd"/><rect x="664" y="614" width="11" height="6" fill="#e4f2fe"/><rect x="675" y="614" width="17" height="6" fill="#bddffd"/><rect x="692" y="614" width="14" height="6" fill="#93ccfd"/><rect x="706" y="614" width="16" height="6" fill="#67b6fb"/><rect x="722" y="614" width="3" height="6" fill="#3fa3fd"/><rect x="725" y="614" width="5" height="6" fill="#1f8ef0"/><rect x="730" y="614" width="8" height="6" fill="#0f78da"/><rect x="738" y="614" width="20" height="6" fill="#0462b9"/><rect x="758" y="614" width="13" height="6" fill="#034b8f"/><rect x="771" y="614" width="6" height="6" fill="#0462b9"/><rect x="777" y="614" width="8" height="6" fill="#0f78da"/><rect x="785" y="614" width="8" height="6" fill="#0462b9"/><rect x="793" y="614" width="17" height="6" fill="#034b8f"/><rect x="810" y="614" width="2" height="6" fill="#003366"/><rect x="812" y="614" width="3" height="6" fill="#034b8f"/><rect x="815" y="614" width="17" height="6" fill="#003366"/><rect x="511" y="608" width="3" height="6" fill="#e4f2fe"/><rect x="514" y="608" width="11" height="6" fill="#bddffd"/><rect x="681" y="608" width="25" height="6" fill="#e4f2fe"/><rect x="706" y="608" width="2" height="6" fill="#bddffd"/><rect x="708" y="608" width="8" height="6" fill="#93ccfd"/><rect x="716" y="608" width="6" height="6" fill="#67b6fb"/><rect x="722" y="608" width="3" height="6" fill="#93ccfd"/><rect x="725" y="608" width="5" height="6" fill="#67b6fb"/><rect x="730" y="608" width="8" height="6" fill="#3fa3fd"/><rect x="738" y="608" width="3" height="6" fill="#1f8ef0"/><rect x="741" y="608" width="14" height="6" fill="#0f78da"/><rect x="755" y="608" width="3" height="6" fill="#034b8f"/><rect x="758" y="608" width="22" height="6" fill="#0462b9"/><rect x="780" y="608" width="2" height="6" fill="#034b8f"/><rect x="782" y="608" width="8" height="6" fill="#0462b9"/><rect x="790" y="608" width="11" height="6" fill="#034b8f"/><rect x="801" y="608" width="3" height="6" fill="#003366"/><rect x="804" y="608" width="8" height="6" fill="#034b8f"/><rect x="812" y="608" width="17" height="6" fill="#003366"/><rect x="829" y="608" width="3" height="6" fill="#1f8ef0"/><rect x="508" y="601" width="3" height="7" fill="#e4f2fe"/><rect x="511" y="601" width="3" height="7" fill="#bddffd"/><rect x="514" y="601" width="2" height="7" fill="#e4f2fe"/><rect x="516" y="601" width="3" height="7" fill="#bddffd"/><rect x="519" y="601" width="6" height="7" fill="#e4f2fe"/><rect x="692" y="601" width="24" height="7" fill="#e4f2fe"/><rect x="716" y="601" width="9" height="7" fill="#bddffd"/><rect x="725" y="601" width="8" height="7" fill="#93ccfd"/><rect x="733" y="601" width="14" height="7" fill="#67b6fb"/><rect x="747" y="601" width="2" height="7" fill="#1f8ef0"/><rect x="749" y="601" width="6" height="7" fill="#0f78da"/><rect x="755" y="601" width="27" height="7" fill="#0462b9"/><rect x="782" y="601" width="3" height="7" fill="#034b8f"/><rect x="785" y="601" width="3" height="7" fill="#0462b9"/><rect x="788" y="601" width="8" height="7" fill="#034b8f"/><rect x="796" y="601" width="5" height="7" fill="#003366"/><rect x="801" y="601" width="9" height="7" fill="#034b8f"/><rect x="810" y="601" width="13" height="7" fill="#003366"/><rect x="823" y="601" width="6" height="7" fill="#0f78da"/><rect x="829" y="601" width="3" height="7" fill="#67b6fb"/><rect x="511" y="595" width="3" height="6" fill="#e4f2fe"/><rect x="514" y="595" width="2" height="6" fill="#bddffd"/><rect x="516" y="595" width="6" height="6" fill="#e4f2fe"/><rect x="711" y="595" width="5" height="6" fill="#e4f2fe"/><rect x="719" y="595" width="14" height="6" fill="#e4f2fe"/><rect x="733" y="595" width="8" height="6" fill="#bddffd"/><rect x="741" y="595" width="6" height="6" fill="#93ccfd"/><rect x="747" y="595" width="8" height="6" fill="#67b6fb"/><rect x="755" y="595" width="3" height="6" fill="#3fa3fd"/><rect x="758" y="595" width="2" height="6" fill="#1f8ef0"/><rect x="760" y="595" width="6" height="6" fill="#0462b9"/><rect x="766" y="595" width="8" height="6" fill="#0f78da"/><rect x="774" y="595" width="47" height="6" fill="#0462b9"/><rect x="821" y="595" width="2" height="6" fill="#1f8ef0"/><rect x="823" y="595" width="3" height="6" fill="#67b6fb"/><rect x="826" y="595" width="3" height="6" fill="#93ccfd"/><rect x="829" y="595" width="3" height="6" fill="#bddffd"/><rect x="511" y="588" width="8" height="7" fill="#e4f2fe"/><rect x="730" y="588" width="19" height="7" fill="#e4f2fe"/><rect x="749" y="588" width="11" height="7" fill="#bddffd"/><rect x="760" y="588" width="3" height="7" fill="#93ccfd"/><rect x="763" y="588" width="6" height="7" fill="#67b6fb"/><rect x="769" y="588" width="13" height="7" fill="#3fa3fd"/><rect x="782" y="588" width="11" height="7" fill="#1f8ef0"/><rect x="793" y="588" width="6" height="7" fill="#3fa3fd"/><rect x="799" y="588" width="24" height="7" fill="#67b6fb"/><rect x="823" y="588" width="6" height="7" fill="#bddffd"/><rect x="829" y="588" width="3" height="7" fill="#e4f2fe"/><rect x="508" y="582" width="11" height="6" fill="#e4f2fe"/><rect x="741" y="582" width="22" height="6" fill="#e4f2fe"/><rect x="763" y="582" width="19" height="6" fill="#bddffd"/><rect x="782" y="582" width="8" height="6" fill="#67b6fb"/><rect x="790" y="582" width="11" height="6" fill="#93ccfd"/><rect x="801" y="582" width="14" height="6" fill="#bddffd"/><rect x="815" y="582" width="8" height="6" fill="#e4f2fe"/><rect x="511" y="575" width="8" height="7" fill="#e4f2fe"/><rect x="755" y="575" width="63" height="7" fill="#e4f2fe"/><rect x="769" y="568" width="46" height="7" fill="#e4f2fe"/><rect x="785" y="562" width="27" height="6" fill="#e4f2fe"/></g>
<g class="coast" clip-path="url(#mapclip)"><path d="M810.5 558.5 812.5 556.5 815.0 556.1 818.0 556.2 819.5 557.5 821.2 559.8 823.5 561.0 825.5 563.0 827.5 565.2 829.5 567.0 830.5 568.0 829.0 569.2 830.5 570.2 831.5 571.8 830.8 573.8 830.5 575.5 829.0 577.0 827.2 575.5 828.0 577.0 829.5 578.2 830.8 579.5 830.5 581.0 829.5 582.2 831.0 583.0 832.0 584.5 832.4 587.5 833.5 585.5 834.5 583.5 835.0 581.0 836.0 579.0 837.5 577.2 838.5 577.8 839.5 579.5 840.5 579.0 841.5 577.0 841.8 574.0 841.5 571.0 841.2 568.5 841.5 566.5 843.0 565.2 844.5 566.2 845.5 568.0 847.0 570.5 847.7 571.4 850.4 574.7 851.5 572.5 850.9 567.1 854.2 564.4 858.0 563.3 860.7 566.0 863.4 569.8 865.5 575.2 865.0 571.4 863.9 566.0 865.0 563.8 869.3 564.9 872.0 569.3 874.8 564.9 877.5 562.2 880.2 564.4 883.4 562.2 884.0 559.0 883.4 555.7 885.6 554.1 888.8 553.5 891.5 556.3 893.2 560.0 895.3 562.2 898.0 560.6 901.3 557.9 904.6 557.9 900.8 561.1 899.1 565.5 902.9 567.6 903.5 571.4 901.8 574.1 905.6 574.7 907.3 577.4 906.2 579.5 909.4 577.4 913.2 579.0 915.4 581.7 913.8 585.5 914.8 588.8 916.5 592.0 914.3 594.7 913.2 598.5 909.4 601.2 906.7 602.8 906.7 607.2 904.0 609.9 900.8 612.0 896.4 613.1 892.1 615.3 887.8 618.0 884.5 621.8 880.2 624.0 874.8 625.0 869.9 626.7 868.3 629.9 867.2 632.1 864.5 632.6 861.8 634.3 857.4 634.8 852.0 633.2 847.7 631.5 845.0 631.2 843.2 631.0 841.8 630.0 840.5 628.5 839.5 627.2 840.0 626.5 841.0 625.2 839.5 626.2 838.0 625.8 836.0 625.0 834.5 624.0 833.2 622.8 832.5 621.5 831.5 622.0 830.0 623.0 827.0 623.4 823.5 623.6 820.0 624.0 817.2 624.5 816.2 624.0 815.5 622.5 815.2 620.5 815.5 618.8 816.5 619.0 817.5 619.8 819.5 619.2 821.5 618.8 823.0 617.2 824.0 616.0 825.0 615.0 824.5 613.5 825.0 612.0 826.5 611.2 828.0 610.5 826.0 610.0 824.5 609.0 825.0 607.0 826.0 605.5 827.2 604.5 826.0 603.5 825.0 602.0 824.0 600.5 825.0 602.2 825.8 603.8 825.0 605.0 824.0 606.0 822.5 606.2 821.0 605.8 820.0 604.5 820.5 603.2 820.0 601.5 818.5 600.2 816.0 599.8 813.0 599.2 810.0 599.0 807.0 599.5 805.0 600.2 803.5 601.2 802.2 600.0 801.5 597.5 803.0 596.8 805.0 596.2 807.5 595.5 810.0 594.8 812.0 595.0 814.0 594.0 816.0 593.5 819.0 593.4 822.0 593.2 824.5 593.0 825.5 591.5 825.0 590.0 825.5 590.0 823.8 591.2 821.5 591.5 819.0 590.8 817.5 589.5 818.2 588.5 820.0 587.0 822.0 585.5 824.0 584.5 825.2 583.2 823.5 581.8 821.5 582.2 820.0 581.8 818.5 580.2 816.2 579.5 814.2 580.2 813.0 579.5 810.0 581.0 807.5 582.0 805.0 582.8 801.1 583.9 800.0 582.3 802.2 580.1 800.0 579.0 803.3 577.9 806.5 575.8 804.3 574.7 802.2 572.5 805.5 571.0 806.5 570.0 807.2 567.5 806.5 566.0 807.0 564.2 808.5 563.2 810.5 564.5 812.0 566.0 812.8 567.8 815.0 567.8 815.8 567.5 817.2 568.5 816.8 570.0 816.4 571.5 817.5 571.0 818.5 569.5 818.8 567.5 818.0 566.2 816.0 565.2 814.0 564.2 812.8 563.0 813.2 561.8 815.0 561.4 817.0 561.2 817.5 560.5 815.8 559.5 813.5 559.8 811.5 559.5Z"/>
<path d="M212.5 325.5 215.6 326.8 218.1 328.6 219.4 333.0 222.5 335.5 224.4 340.5 227.5 343.6 227.5 348.0 230.0 351.1 228.1 353.6 223.8 353.6 217.5 352.4 212.5 351.1"/>
<path d="M214.6 376.4 214.5 377.0 214.0 377.4 213.5 377.5 213.0 377.4 212.5 377.0 212.4 376.4 212.5 375.8 212.9 375.4 213.5 375.2 214.0 375.4 214.5 375.8Z"/>
<path d="M212.5 357.4 217.5 356.8 221.9 358.0 225.6 361.1 229.4 363.6 233.1 362.4 236.9 364.2 240.0 367.4 241.5 371.8 241.2 376.1 238.8 379.9 235.6 383.6 233.8 389.2 232.2 393.6 234.4 388.6 236.2 384.2 239.4 381.1 243.1 379.2 247.5 379.9 250.0 381.8 250.6 386.1 248.8 389.9 245.0 391.8 241.9 393.6 239.8 394.0 243.1 395.2 245.6 394.9 243.8 400.5 244.4 405.5 241.9 410.5 244.4 407.4 245.6 403.0 246.5 398.0 248.1 395.2 251.2 394.2 253.1 392.4 255.0 391.5 256.5 393.0 255.0 396.1 253.1 400.5 251.0 404.2 253.1 403.0 255.0 399.9 256.2 398.0 258.1 400.5 260.0 404.2 261.9 408.6 261.2 404.2 260.0 401.1 262.5 398.0 265.0 394.9 267.5 396.8 272.5 397.4 277.5 399.9 281.2 403.0 283.8 407.4 282.5 411.8 279.4 414.9 275.6 414.9 273.1 417.4 270.6 421.1 268.1 423.6 271.2 423.6 273.1 420.5 275.0 417.4 278.1 416.8 280.6 418.6 283.8 418.6 286.2 414.9 288.1 414.2 290.0 417.4 290.0 421.8 288.1 426.1 285.0 429.2 281.2 431.1"/>
<path d="M281.2 431.1 278.8 433.1 276.5 436.9 278.1 437.5 280.0 434.4 282.5 432.5 283.1 436.2 282.5 441.2 281.5 446.2 283.1 442.5 284.4 437.5 285.6 432.5 288.8 428.1 293.1 425.0 297.5 423.1 300.0 425.0 304.4 425.2 307.5 427.5 311.9 430.0 314.8 432.5 315.0 435.6 312.5 438.8 308.8 440.6 304.4 441.9 300.0 444.4 296.9 448.1 296.5 449.8 298.8 448.1 301.9 445.6 306.2 444.4 310.0 444.4 310.6 446.9 308.1 450.0 308.8 452.2 310.6 452.8 313.1 450.0 316.2 447.5 316.5 444.4 316.9 441.2 318.8 440.2 321.2 442.5 324.4 446.9 326.9 451.9 328.1 456.2 327.2 459.8 324.4 458.8 320.6 458.1 317.5 459.0 315.6 461.9 312.5 462.2 307.5 463.8 305.2 466.0 308.8 465.2 312.5 464.0 315.6 465.2 316.9 467.2 320.0 468.1 323.8 467.2 327.5 468.1 331.2 470.6 333.8 473.8 333.1 477.5 328.8 477.2 325.0 476.9 321.9 475.6 319.4 474.8 316.9 475.6 313.1 475.6 310.0 477.2 307.5 479.8 310.6 478.1 313.8 477.2 317.5 477.5 320.6 480.0 321.5 482.5 321.2 486.2 320.0 488.8 316.9 487.5 313.1 486.9 310.0 488.1 306.9 487.5 304.0 486.0 307.5 488.8 311.9 489.8 315.6 490.6 317.2 492.5 317.5 495.0 319.4 496.5 322.5 495.6 325.6 497.2 329.4 498.1 332.5 498.8 331.2 501.9 329.8 503.1 331.2 506.2 330.9 509.4 332.5 509.0 332.9 511.0 333.4 507.5 334.4 505.0 338.1 503.8 338.5 507.5 337.5 511.9 335.6 516.2 337.5 515.6 338.8 512.5 340.0 510.0 341.9 513.1 345.0 512.5 346.5 516.9 347.2 521.0 347.8 516.9 348.1 513.8 350.6 511.5 352.5 511.2 353.5 513.5 351.9 516.2 352.5 518.1 355.6 516.9 358.1 518.8 360.6 521.9 363.8 523.1 364.4 525.0 362.5 526.9 362.8 530.6 359.4 530.6 355.6 530.6 358.8 533.1 363.1 533.1 365.6 530.6 368.8 530.2 371.9 532.5 373.5 534.4 371.5 537.5 370.0 541.2 366.9 544.4"/>
<path d="M321.0 463.1 320.8 464.0 319.9 464.8 318.8 465.0 317.6 464.8 316.8 464.0 316.5 463.1 316.8 462.2 317.6 461.5 318.8 461.2 319.9 461.5 320.8 462.2Z"/>
<path d="M375.6 538.8 378.1 536.0 380.2 535.6 378.8 538.1Z"/>
<path d="M366.2 545.6 368.1 544.4 370.6 542.5 373.8 541.9 376.9 542.5 380.0 543.1 381.9 540.6 383.8 539.4 386.2 541.9 389.4 546.2 392.5 550.6 390.6 552.5 387.5 550.6 385.0 549.8 383.1 551.2 386.2 552.8 389.0 554.4 389.4 557.2 386.9 559.8 383.8 560.0 381.0 557.5 379.0 557.2 378.8 560.0 381.2 563.1 384.0 565.6 384.8 567.5 381.2 568.1 378.1 568.5 377.5 569.4 380.0 570.0 380.2 573.1 378.1 576.9 375.6 578.5 372.5 577.8 370.2 575.0 368.5 573.1 368.5 575.6 366.9 577.8 370.0 578.8 370.2 583.8 370.0 588.8 368.8 593.8 366.9 596.5 365.0 594.4 363.8 592.2 361.2 591.9 359.8 590.0 359.8 586.2 358.8 584.8 357.2 588.1 356.9 591.5 355.0 590.0 352.5 586.2 350.0 581.9 348.5 577.5 347.2 574.4 348.1 571.2 350.6 568.8 353.8 565.6 356.2 561.9 357.8 559.8 355.0 561.2 352.5 564.4 349.4 567.2 345.6 568.5 342.5 568.1 342.5 565.6 344.4 563.1 343.1 562.5 340.6 564.4 336.9 561.2 334.4 558.1 332.8 553.8 331.2 551.5 329.4 551.9 330.6 554.0 328.1 553.5 326.5 552.8 326.9 556.2 327.2 559.4 325.6 559.8 323.1 556.9 321.0 555.0 320.6 557.5 321.9 561.2 324.4 564.4 326.9 567.2 327.2 569.4 325.0 570.4 321.9 570.0 319.8 568.8 318.1 565.6 315.6 562.5 313.1 561.5 311.0 562.8 313.1 563.8 315.6 566.2 316.9 569.4 316.2 571.9 318.8 573.8 319.8 576.9 319.4 579.4 322.5 577.8 325.0 578.8 326.5 581.9 328.5 583.8 326.9 585.6 329.0 588.1 330.0 591.9 331.9 593.1 331.5 595.6 332.8 599.8 333.5 596.5 333.1 594.4 335.6 595.6 338.1 598.1 338.8 601.2 340.2 599.4 341.9 597.8 344.4 600.0 346.5 602.5 348.5 603.1 348.1 605.6 350.0 607.5 351.0 609.4 349.4 612.5 346.2 612.8 348.1 614.4 350.0 616.9 350.6 619.4 353.1 620.0 355.0 619.4 355.2 621.5 356.9 623.8 358.1 627.2 356.9 629.4 357.2 633.8 357.5 637.5 355.6 638.8 353.8 635.0 353.1 631.2 351.2 627.8 349.8 626.2 350.6 630.0 351.5 634.4 351.0 638.1 352.5 641.2 354.4 645.0"/>
<path d="M341.2 665.0 340.6 663.1 338.1 660.6 335.6 658.1 333.8 654.4 330.6 651.9 328.1 650.0 325.6 647.5 323.1 644.8 322.5 642.8 320.0 642.2 317.8 640.6 315.6 636.9 312.5 633.1 310.0 629.4 309.4 626.5 312.5 626.0 316.2 628.1 320.0 631.9 321.5 634.0 321.2 630.0 320.0 626.9 321.9 629.4 324.4 633.1 327.5 636.2 330.0 636.9 333.1 640.0 333.8 638.5 335.0 641.2 338.1 643.8 338.8 642.2 341.2 644.0 344.4 646.2 347.5 648.1 350.6 653.1 351.2 650.0 350.6 646.9 354.4 647.2 355.6 646.0 352.5 640.0 351.2 636.9 351.9 632.5 350.6 628.1 349.4 626.2 351.9 627.5 353.8 631.9 355.0 636.2 356.9 638.8 358.1 636.2 357.5 631.9 356.5 627.5 358.1 626.2"/>
<path d="M357.8 657.2 357.4 658.2 356.4 658.9 355.0 659.1 353.6 658.9 352.6 658.2 352.2 657.2 352.6 656.2 353.6 655.6 355.0 655.4 356.4 655.6 357.4 656.2Z"/>
<path d="M266.2 540.0 265.0 543.8 264.4 547.5 261.2 549.4 258.1 553.8 253.8 558.1 249.4 561.9 248.1 564.4 249.0 567.8 251.9 571.2 255.6 574.4 257.5 578.8 258.1 581.9 255.0 581.2 251.2 581.9 248.8 584.4 245.6 585.0 242.8 584.8 240.0 587.2 236.9 587.8 233.8 586.9 235.0 589.4 237.5 592.5 238.5 595.0 237.5 598.1 236.0 598.1 235.6 595.0 234.4 591.2 232.5 588.1 228.8 586.2 223.8 584.0 219.4 583.1 216.9 582.8 215.2 585.0 215.6 589.4 213.5 591.2 212.5 591.5"/>
<path d="M212.5 611.2 215.6 612.8 218.8 613.5 221.9 614.4 225.0 612.8 228.8 611.0 233.1 610.2 234.4 607.5 236.9 606.2 239.4 608.1 243.1 608.5 245.6 607.5 246.2 604.4 245.0 601.9 243.1 600.0 245.6 599.0 246.9 601.2 248.1 603.8 250.6 605.0 252.5 609.0 253.8 607.5 253.8 605.6 256.9 604.8 261.0 605.2 260.0 608.1 259.4 610.0 261.9 613.1 265.0 617.5 267.8 620.0 268.8 623.1 271.0 625.0 272.5 622.8 271.9 626.2 275.0 626.9 278.1 626.5 280.0 628.8 281.9 630.2 280.6 633.1 278.1 634.4 275.2 634.8 276.9 636.9 279.4 640.6 281.9 643.1 284.8 643.8 286.5 642.2 285.6 644.8 283.8 647.2 286.2 646.2 289.4 646.9 292.5 648.8 295.6 650.6 298.8 649.4 301.9 650.6 303.8 654.4 306.2 658.1 310.0 660.6 313.8 662.2 318.8 663.5 323.8 664.4 327.5 666.2 331.9 668.1 335.6 670.6 338.1 671.2 340.6 669.4 340.0 666.2 341.2 665.0"/>
<path d="M284.4 647.8 287.5 647.2 291.2 649.4 294.0 652.5 293.5 655.0 290.6 655.2 288.1 653.1 286.2 650.0Z"/>
<path d="M216.2 630.0 218.8 628.1 221.9 629.4 224.4 632.5 223.5 635.6 220.6 635.2 218.1 633.1Z"/>
<path d="M246.2 651.0 250.0 651.5 253.5 653.1 252.5 654.4 248.8 653.1Z"/>
<path d="M212.5 636.2 214.4 638.1 213.8 640.0 212.5 640.6"/>
<path d="M212.5 619.0 213.8 619.8"/>
<path d="M212.5 448.0 213.0 454.6 215.4 455.8 219.0 455.4 221.4 457.6 220.6 461.2 222.0 463.0 224.4 463.4 225.6 461.4 228.0 461.8 226.2 463.0 225.0 465.4 226.2 468.4 229.8 470.2 233.4 472.6 235.2 476.2 234.0 479.8 231.6 481.4 228.0 481.0 225.4 481.6 224.2 486.4 224.6 491.2 228.0 490.6 232.2 487.6 235.8 484.6 238.8 482.8 241.8 483.4 243.0 481.0 244.6 481.0 244.2 484.6 245.4 487.6 245.0 490.0 247.2 492.4 249.0 495.4 251.4 496.0 252.6 493.6 251.4 491.8 253.8 491.0 255.4 493.0 254.6 496.6 255.4 500.2 257.4 502.6 260.4 501.8 260.6 504.4 262.8 508.0 265.8 514.0 268.8 521.2 271.2 528.4 272.6 533.2 271.2 536.8 267.6 538.6 265.2 542.2 264.0 546.4 261.6 548.8"/>
<path d="M216.6 469.6 220.2 468.4 223.8 470.8 222.6 475.0 220.2 478.0 217.4 477.4 216.0 473.8Z"/>
<path d="M238.2 492.4 240.6 491.4 243.0 494.2 244.6 499.0 243.4 502.0 240.6 500.2 238.2 496.6Z"/>
<path d="M216.6 519.4 218.4 512.8 221.4 506.8 225.6 503.2 231.0 502.0 237.0 503.2 241.0 506.8 241.8 512.8 241.4 520.0 240.0 526.0 235.8 530.8 230.4 533.2 224.4 534.2 220.2 532.6 217.8 527.2Z"/>
<path d="M244.8 511.6 247.8 509.4 253.2 510.4 258.6 511.8 259.8 515.2 259.0 518.6 254.4 518.8 249.0 518.2 246.0 515.8Z"/>
<path d="M212.5 655.6 216.2 655.0 221.2 656.0 226.2 658.5 231.2 660.2 235.0 661.9 233.5 664.0 236.2 661.5 240.0 661.0 243.1 662.5 245.6 665.0 246.2 663.1 250.0 661.0 253.1 658.8 256.2 657.2 259.4 660.0 262.5 663.1 265.0 665.6 267.5 665.6 268.1 668.1 266.9 671.5 269.4 670.2 271.9 672.2 274.4 675.2 273.1 677.5 276.2 675.6 279.0 677.5 277.5 680.6 278.1 683.8 280.6 686.9 285.0 688.5 288.8 690.0 293.1 690.0 295.0 691.5 296.2 694.4 298.8 693.5 300.2 690.6 302.2 690.0 303.5 693.8 301.9 697.2 300.2 700.6 299.8 705.0 301.2 708.8 301.0 711.9 298.1 713.1 290.0 713.5 298.1 713.8 300.6 715.6 301.9 719.4 301.0 723.1 300.6 726.2 303.1 727.5 304.8 728.8 303.1 731.9 302.5 735.0 305.0 732.5 306.2 734.4 304.4 736.9 301.2 738.8 299.4 737.5 300.0 740.6 303.1 739.4 306.2 737.5 310.0 736.9 313.1 737.8 315.0 741.2 316.2 745.0 317.2 747.5 316.2 750.6 314.8 753.8 311.9 755.6 307.5 757.8 312.5 756.2 315.6 753.1 316.9 749.4 318.8 746.2 320.2 748.8 318.8 752.5 320.6 750.6 321.9 747.8 322.5 751.9 322.5 756.2 323.1 751.9 325.6 749.4 329.4 746.9 333.1 745.2 335.0 741.9 337.5 739.8 340.0 741.9 340.6 746.9 341.0 742.5 340.0 740.0 342.5 737.5 344.4 735.6 347.5 734.4 345.6 732.5 346.2 730.0 348.1 729.4 345.6 726.2 347.5 724.8 351.2 726.9 348.1 723.1 346.9 720.0 348.1 718.1 351.2 718.8 350.0 715.6 351.2 712.5 353.1 708.8 355.0 706.2"/>
<path d="M296.1 739.8 296.0 740.0 295.9 740.1 295.6 740.2 295.4 740.1 295.2 740.0 295.1 739.8 295.2 739.5 295.4 739.4 295.6 739.2 295.9 739.4 296.0 739.5Z"/>
<path d="M346.9 676.9 350.0 675.6 349.4 671.9 351.2 670.0 353.1 673.1 355.0 676.2 355.6 680.0 353.8 683.1 350.6 681.2Z"/>
<path d="M314.8 708.1 315.6 703.8 317.5 700.6 320.0 701.0 321.0 704.4 318.8 706.9Z"/>
<path d="M212.5 677.5 214.4 679.4"/>
<path d="M212.5 695.0 213.8 698.8 213.1 702.5 215.0 705.0 214.4 708.8 216.9 713.1 215.0 715.0 216.2 718.1 213.8 721.2 216.2 722.5"/>
<path d="M212.7 750.1 215.8 753.0 219.0 756.2 221.7 761.1 223.9 766.5 225.3 772.8 225.7 780.0 225.5 787.2 224.1 793.5 221.2 798.0 218.1 803.0 214.9 807.0 212.7 809.0"/>
<path d="M340.0 742.5 340.6 739.4 341.9 736.9 343.8 734.4 347.5 734.4 344.4 731.9 346.0 729.4 347.5 726.9 351.5 727.2 346.9 725.6 347.5 722.8 350.6 719.4 347.5 721.9 346.2 719.4 348.1 716.2 350.0 713.1 351.0 708.8 352.5 705.0 353.1 703.1 355.0 702.1 357.5 703.1 358.5 705.6 356.9 706.2 358.1 708.8 356.9 711.2 354.8 713.1 358.1 712.2 360.6 713.1 360.0 715.0 361.2 718.1 360.6 720.0 363.1 719.4 364.0 721.9 365.6 723.8 363.1 726.2 366.2 726.9 368.5 728.8 369.4 731.9 366.9 733.5 363.1 734.4 366.9 734.0 370.0 733.1 371.9 735.6 373.1 738.1 375.0 740.6 374.4 743.1 371.9 745.0 369.8 746.9 368.1 749.4 370.6 747.5 373.5 745.2 376.2 745.6 378.1 747.5 377.5 750.6 375.2 752.5 372.8 754.4 371.0 756.0 373.8 754.4 376.9 753.1 379.8 753.8 381.2 756.2 383.8 757.2 385.6 758.8 385.2 761.9 383.1 764.4 379.4 766.2 383.1 766.5 385.6 765.0 388.1 765.6 388.5 768.1 386.9 770.0 385.0 771.9 388.1 772.5 390.0 774.0 391.9 776.2 391.5 780.0 391.2 783.1 388.8 783.5 385.6 782.5 382.5 781.0 379.4 779.8 381.2 781.9 383.8 783.8 383.1 786.2 385.6 786.9 387.5 788.8 386.9 791.2 389.4 791.9 390.6 794.4 390.0 796.9 393.1 796.2 395.6 797.8 395.0 799.4 397.5 798.8 400.0 800.0"/>
<path d="M400.0 800.0 402.5 800.6 403.1 803.8 404.8 806.2 403.8 808.8 401.9 811.2 400.0 814.4 402.5 812.5 405.0 810.2 407.5 809.4 410.0 810.6 412.5 812.5 410.6 815.6 408.5 819.0 411.2 815.6 413.5 812.2 416.2 811.9 418.1 813.8 419.4 816.9 421.9 819.4 424.4 820.0 426.9 817.8 428.8 818.1 430.0 820.6 432.5 821.9 435.2 823.5 434.4 825.6 431.2 826.9 427.5 827.5 425.0 829.4 423.1 831.2 426.2 830.6 430.0 830.2 433.8 831.0 436.2 833.5 437.2 836.5 438.1 839.0 435.6 840.6 434.0 841.9 436.0 844.0 438.1 842.2 440.0 840.0 443.1 838.5 445.6 839.0 448.1 841.2 450.6 844.0 452.2 847.5 452.8 851.9 451.9 856.2 452.5 859.4 450.0 860.6 447.5 861.0 451.2 861.9 453.1 862.5 451.9 864.8 454.4 866.2 453.1 869.4 450.0 871.9 446.2 875.0 442.5 877.5 439.4 880.0 435.6 879.8 431.2 880.6 426.9 882.8 422.5 883.5 420.0 886.9 418.1 890.0 417.5 891.9"/>
<path d="M423.1 831.2 420.0 833.8 416.2 835.2 412.5 836.9 408.1 838.5 405.0 841.2 402.5 841.5 404.4 843.1 405.0 846.0 403.1 847.8 405.6 846.2 408.8 844.0 412.5 841.9 416.2 839.4 419.4 836.2 421.9 833.8 425.0 832.5 429.4 832.2 426.2 833.1Z"/>
<path d="M438.8 891.9 439.4 890.0 441.2 886.2 443.1 883.1 446.9 881.2 450.0 879.4 453.1 878.1 455.6 878.8 456.2 880.2 453.8 882.2 450.6 883.1 451.0 885.0 453.1 886.2 452.5 890.0 452.2 891.9"/>
<path d="M458.0 871.9 457.9 872.2 457.8 872.4 457.5 872.5 457.2 872.4 457.1 872.2 457.0 871.9 457.1 871.5 457.2 871.4 457.5 871.2 457.8 871.4 457.9 871.5Z"/>
<path d="M449.8 321.1 449.4 325.5 451.9 328.0 453.8 331.8 456.9 329.9 458.5 333.6 458.1 338.0 456.2 341.1 453.8 343.0 453.5 346.1 455.6 348.0 458.8 349.2 460.6 346.8 463.1 348.6 464.8 353.0 464.4 358.0 462.5 362.4 460.0 365.2 456.9 366.1 455.0 367.4 457.5 369.2 458.1 371.8 455.6 372.4 454.4 374.9 455.6 376.8 458.1 375.8 460.0 373.0 461.9 369.9 463.1 369.5 463.5 371.1 461.9 374.2 459.4 378.0 457.5 381.8 456.5 386.1 455.6 391.8 454.0 394.9 454.0 398.6 455.6 401.8 458.1 404.0 461.9 404.9 465.6 405.5 469.4 404.5 472.2 403.0 473.5 399.9 472.5 396.8 474.4 394.9 476.0 391.8 477.8 389.2 477.5 385.5 476.0 381.8 474.4 378.0 473.5 374.2 473.8 371.1 476.2 370.5 474.8 372.4 475.6 376.1 477.5 379.9 479.0 384.2 479.8 388.0 480.0 390.5 481.9 391.1 481.2 393.6 479.4 395.5 478.1 397.4 479.4 399.2 481.9 399.9 484.4 398.0 487.5 395.5 491.2 396.1 494.4 395.5 496.9 394.5 495.6 396.8 492.5 398.6 488.8 399.9 485.6 401.5 484.0 404.2 482.5 406.8 482.5 409.9 484.0 412.0 486.9 411.5 490.0 411.5 492.5 413.2 495.6 414.0 499.4 413.6 501.9 414.2 504.0 416.8 505.2 418.0 503.1 419.2 500.0 418.0 497.5 417.4 498.8 419.2 501.9 421.1 502.5 424.2 501.9 428.0 501.9 431.1 504.4 434.2 506.9 436.1 509.0 436.8 508.1 438.6 506.0 439.2 502.5 438.0 498.8 436.1 495.6 433.6 492.5 430.5 489.4 427.8 486.2 426.1 482.5 425.5 478.8 425.8 475.0 424.9 471.2 424.0 468.5 424.9 466.5 427.8 468.1 431.1 470.6 434.9 473.1 437.4 476.9 439.0 481.2 440.5 485.6 443.0 488.1 445.6 491.2 448.8 495.0 450.0 500.0 451.2 501.9 449.4 504.4 449.0 506.2 450.2 509.4 450.0 512.2 449.4 513.1 450.6 511.2 452.5 512.2 455.0 512.5 457.2 509.8 458.8 507.5 460.6 507.2 465.0 506.2 469.4 504.8 473.1 504.4 475.6 507.5 475.0 510.6 474.4 512.8 476.2 511.9 478.1 508.1 478.1 504.8 478.8 503.5 481.2 503.1 485.0 502.5 489.4 504.0 490.0 506.2 488.8 507.8 487.8 507.2 490.6 505.0 493.8 501.2 495.6 498.1 496.2 495.0 494.4 492.2 491.9 489.4 491.0 485.6 491.5 483.1 493.8 481.9 497.5 480.6 500.6 479.4 502.8 481.9 503.1 485.0 502.5 486.9 504.0 490.0 505.2 493.8 505.6 497.5 504.4 500.0 501.2 502.5 499.4 503.8 501.0 502.5 504.4 501.0 506.9 500.0 510.0 496.9 510.6 493.8 510.0 490.0 508.5 486.2 506.9 481.9 505.6 480.6 510.0 478.8 514.4 476.9 517.5 476.0 522.5 475.2 525.6 477.8 526.2 481.2 523.1 485.0 520.0 488.1 519.8 491.9 521.2 495.6 522.8 499.4 522.2 502.5 521.9 506.2 524.4 509.0 526.2 509.4 525.0 506.2 522.8 503.1 520.6 505.6 518.8 506.2 517.8 503.1 518.1 500.0 519.4 496.2 519.0 492.5 517.5 490.2 516.5 486.9 517.2 483.8 519.0 480.6 521.9 477.5 525.0 475.0 528.1 474.4 532.5 473.5 536.9 475.0 540.6 477.5 542.8 481.9 543.5 486.9 543.5 490.0 544.0 488.1 545.0 483.8 545.6 481.2 548.1 478.8 550.6 476.9 555.0"/>
<path d="M448.1 357.8 450.0 355.2 453.8 354.9 457.5 354.2 460.6 353.2 461.0 354.9 458.8 358.6 456.2 362.4 454.4 363.2 451.9 360.5 449.4 359.2Z"/>
<path d="M472.5 413.6 474.0 409.9 476.2 408.0 478.1 409.9 478.5 414.2 476.9 417.4 474.4 416.1Z"/>
<path d="M492.5 420.8 494.4 419.0 497.2 419.5 498.5 421.8 496.9 423.2 494.4 422.8Z"/>
<path d="M464.4 442.4 468.1 440.5 472.5 441.1 476.2 443.0 480.0 445.0 482.5 448.1 484.8 451.9 487.5 454.4 491.2 456.0 494.4 457.8 495.0 461.2 495.6 463.5 493.8 466.5 490.6 468.8 486.2 470.6 481.9 472.2 478.1 473.8 475.0 474.8 472.5 473.1 470.2 470.2 471.9 468.8 475.0 468.1 476.0 466.9 474.4 465.6 471.2 464.8 467.5 464.0 463.8 463.1 462.2 460.6 462.2 456.9 463.1 452.5 466.9 452.2 468.8 453.1 466.9 451.9 463.8 450.0 463.1 446.9 463.1 443.8 464.4 442.4"/>
<path d="M501.2 456.2 502.5 453.8 505.6 453.5 508.1 455.6 506.2 458.1 505.6 461.9 505.0 465.6 503.1 466.2 501.9 462.5 501.2 459.4Z"/>
<path d="M491.5 555.0 495.0 551.0 498.8 547.2 502.5 543.8 502.8 545.0 499.4 548.8 495.6 552.2 493.1 555.0Z"/>
<path d="M476.9 555.0 476.5 558.8 476.5 562.5 477.5 564.4 480.6 563.8 483.8 561.5 488.1 557.5 492.5 553.1 496.9 549.0 500.0 546.0 502.2 544.0 502.8 545.0 500.0 548.1 496.2 551.9 491.9 556.2 487.5 560.6 483.1 564.4 480.0 566.2 481.9 568.8 480.6 572.5 480.2 576.2 481.2 579.0 484.4 579.8 486.9 580.0 488.1 581.9 490.0 582.5 493.1 580.2 495.6 577.5 498.1 575.6 501.2 574.4 504.4 574.0 501.2 575.2 498.1 576.9 495.6 579.8 492.5 583.1 489.4 585.2 488.1 587.2 489.4 589.4 491.5 591.2 492.5 595.0 493.5 600.0 494.0 605.0 494.0 610.0 494.8 613.8 496.2 615.0 497.8 611.9 499.8 606.9 501.9 602.5 503.5 600.6 503.1 603.1 501.2 606.2 499.4 610.6 497.5 615.0 498.8 616.9 502.5 615.6 506.9 614.0 510.6 612.5 511.9 613.8 513.1 615.0 510.6 615.6 506.9 616.9 502.5 618.5 499.8 619.8 500.0 622.5 499.4 626.2 500.6 629.4 503.1 633.1 505.6 637.5 508.1 641.5 510.2 644.8 511.5 647.2 512.8 648.8 515.0 646.2 518.5 643.5 515.6 646.9 513.8 650.0 513.5 653.8 513.8 656.9 515.6 658.8 518.1 661.0 520.6 661.9 521.2 665.0"/>
<path d="M506.0 589.4 507.5 593.8 508.8 598.1 508.1 600.0 511.2 600.6 513.8 601.9 515.0 604.4 515.6 608.1 514.4 605.6 512.5 603.1 510.0 602.2 508.1 602.5 506.9 604.4 507.5 606.0 505.0 605.0"/>
<path d="M521.0 664.0 519.8 666.2 521.0 668.2 523.5 668.0 526.0 666.5 529.0 666.2 526.5 667.5 524.5 669.5 523.0 671.0 523.5 673.5 525.0 675.0 524.5 677.0 526.2 678.5 527.5 681.0 528.5 684.0 530.5 685.2 533.0 686.2 534.5 688.5 535.0 691.0 538.0 691.5 540.5 692.0 539.5 694.0 537.0 694.8 535.5 695.5 537.0 697.2 539.5 697.5 541.0 695.5 543.0 694.8 546.0 695.5 548.5 695.5 551.0 694.8 554.0 692.5 557.5 690.0 560.5 688.0 561.5 686.5 562.0 688.5 560.0 691.0 558.0 694.5 556.5 698.0 559.0 699.8 562.0 701.2 565.0 702.8 568.0 703.8 570.5 702.2 572.5 700.5 573.8 699.2 573.0 701.0 571.0 703.0 569.0 704.8 567.2 705.5 566.8 708.0 568.0 709.5 570.0 710.5 573.0 712.0 575.8 713.2 577.0 711.8 578.2 709.5 579.5 707.8 580.0 708.8 578.8 711.0 577.8 713.5 577.2 715.2 579.5 716.5 582.0 717.5 584.5 717.2 586.0 715.5 588.5 715.2 590.5 714.5 591.5 712.0 591.8 709.0 591.2 706.0 590.0 704.0 589.0 702.8 586.5 703.2 584.5 702.2 583.0 700.8 585.0 700.2 587.5 701.2 590.0 702.5 592.0 702.0 594.0 700.0 595.8 697.5 597.0 694.0 598.0 690.0 598.8 686.0 599.8 682.0 600.8 678.5 601.2 676.0 599.0 675.2 597.5 674.8 600.0 674.0 602.5 673.0 603.0 670.0 602.2 667.0 600.8 664.5 600.5 661.5 601.2 658.0 602.5 655.5 600.0 655.0 596.5 653.5 593.5 651.8 596.0 651.5 600.0 652.0 603.5 651.8 605.0 649.5 606.5 647.0 608.0 645.0 606.5 644.0 604.0 642.5 602.5 640.5"/>
<path d="M551.2 695.2 554.0 697.5 556.5 698.0"/>
<path d="M580.0 716.5 582.0 715.8 584.5 716.2 585.0 717.2 583.0 717.8 580.5 717.5Z"/>
<path d="M602.5 640.5 604.4 641.9 607.5 643.1 610.6 642.5 612.5 639.8 613.8 636.2 615.0 633.1 617.5 631.5 619.4 628.8 620.0 625.6 618.8 622.5 619.4 618.8 618.1 616.2 615.0 616.2 612.2 615.2 608.5 612.5 611.9 613.1 615.6 614.0 618.1 612.2 621.2 610.6 623.8 607.5 623.1 604.4 621.2 601.2 620.0 598.1 617.5 597.5 615.2 596.9 614.4 593.1 616.2 591.9 620.0 591.5 623.1 593.1 626.2 591.9 628.8 589.4 630.6 586.2 629.4 584.4 626.9 582.8 624.4 581.2 625.6 580.0 629.4 579.8 635.0 578.8 640.0 577.8 643.8 576.9 645.6 575.0 645.0 572.5 642.5 568.8 645.0 570.6 646.9 568.8 648.1 565.0 649.4 561.9 646.2 558.1 650.0 557.5 655.6 559.8 653.1 563.1 650.6 566.9 648.8 570.6 647.5 574.4 648.1 577.5 650.6 578.8 653.8 577.2 655.6 574.4 658.8 572.5 661.2 573.1 663.1 571.2 665.0 568.1 666.9 570.2 669.4 568.8 672.5 566.2 674.4 563.1 673.1 560.0 671.9 556.9 674.4 559.0 678.1 561.2 681.2 559.4 685.0 556.2 686.9 552.5 690.0 550.0 691.9 546.2 693.8 541.9 695.6 537.5 697.2 533.8 697.8 530.0"/>
<path d="M659.2 578.5 659.0 579.6 658.5 580.5 657.8 580.8 657.0 580.5 656.5 579.6 656.2 578.5 656.5 577.4 657.0 576.5 657.8 576.2 658.5 576.5 659.0 577.4Z"/>
<path d="M789.4 320.8 791.2 324.2 792.8 326.8 791.2 328.6 787.8 330.5 785.0 333.0 783.1 336.1 780.0 337.4 777.5 337.4 775.0 335.5 771.2 333.6 767.5 331.8 765.4 330.2 766.9 332.4 770.0 334.2 773.1 336.1 773.8 338.6 771.9 340.5 767.5 341.1 763.8 341.1 762.2 342.4 763.8 344.5 765.6 343.0 768.8 342.4 772.5 341.8 777.5 339.9 782.5 338.2 786.2 336.5 787.8 333.6 790.6 331.8 795.0 331.1 799.4 331.5 802.5 332.4 804.4 334.9 807.5 337.8 810.6 340.5 812.8 341.1 814.0 343.6 816.9 346.1 820.0 347.8 822.8 349.2 823.5 354.2 823.5 360.5 822.8 366.1 822.2 369.2 820.2 371.1 820.6 375.5 819.8 379.2 817.5 378.0 815.0 375.5 811.2 373.0 807.5 371.1 803.8 369.0 800.6 366.1 798.1 361.8 796.2 356.1 795.2 351.1 794.4 346.1 792.2 345.2 789.8 346.5 787.5 348.6 785.0 350.2 781.2 352.0 777.5 354.2 774.4 356.1 772.5 357.8 774.4 359.2 777.5 357.8 781.2 355.5 785.0 354.2 787.5 352.8 790.0 351.5 791.9 350.8 793.1 353.6 793.8 359.2 794.4 363.6 793.1 365.5 790.0 367.4 788.5 369.2 790.0 370.8 792.5 369.2 794.4 368.2 796.2 370.5 799.4 373.0 802.5 375.8 806.2 378.6 810.0 381.1 813.1 383.6 816.2 385.5 818.1 386.5 818.8 389.9 820.0 392.0 823.5 392.8 822.8 394.9 820.6 397.4 818.1 399.9 817.2 401.8 817.8 405.5 818.8 409.2 819.4 405.5 820.6 402.4 823.1 400.8 825.6 401.5 826.5 405.5 827.2 411.8 827.5 418.0 827.8 424.2 828.5 430.5 828.8 434.2 826.9 436.1 823.8 435.5 820.6 435.8 819.4 434.9 819.0 429.2 818.5 424.2 818.1 422.4 816.9 428.0 816.2 434.2 815.6 436.1 812.5 436.1 808.8 436.1 805.6 434.2 803.1 431.8 801.2 427.4 799.8 422.4 798.8 416.8 797.5 413.0 795.0 409.9 791.9 407.4 788.8 405.5 786.2 403.0 783.8 400.2 781.2 398.6 777.5 397.8 773.1 397.4 769.4 396.8 766.9 396.8 766.5 398.6 768.1 400.5 772.5 401.5 777.5 401.5 781.2 402.4 783.1 405.5 783.8 409.2 782.5 412.4 779.4 415.5 775.6 418.0 772.5 419.5 768.8 419.9 763.8 419.0 759.4 418.0 755.0 417.8 753.5 418.2 755.0 419.9 757.5 421.1 757.8 424.2 756.9 428.0 755.0 430.5 751.9 433.0 748.8 434.9 745.6 436.1 748.8 435.5 751.9 434.9 754.4 436.1 756.9 437.8 761.2 437.4 766.2 436.1 770.6 435.5 773.1 436.1 773.8 438.6 772.5 440.5"/>
<path d="M760.6 421.8 763.8 421.1 768.8 422.4 773.1 421.8 777.5 419.2 781.9 416.5 784.0 419.2 786.2 422.4 786.0 425.5 786.9 428.0 785.0 429.9 781.9 431.1 779.4 433.6 777.5 436.1 775.6 434.9 773.1 433.0 769.4 433.0 765.0 434.0 761.2 435.2 758.1 435.8 757.2 433.6 758.5 430.5 760.2 428.0 760.6 424.9Z"/>
<path d="M801.9 320.8 803.1 324.9 805.6 328.0 809.4 331.8 813.1 334.5 817.5 336.5 820.6 337.4 823.1 335.2 826.9 331.8 830.6 329.9 835.6 329.5 839.8 329.0 840.6 325.5 840.9 320.8"/>
<path d="M792.5 320.8 794.4 324.0 796.9 323.2 798.1 320.8"/>
<path d="M772.5 440.5 771.9 440.6 768.1 441.9 765.0 443.8 762.5 446.9 761.5 449.8 764.0 451.2 765.6 448.8 766.9 445.6 769.4 443.8 772.5 443.1 775.6 443.8 779.4 441.9 783.8 439.4 788.8 440.2 793.8 441.9 798.8 444.4 803.8 446.2 809.4 447.5 815.0 447.2 820.0 446.9 821.2 448.1 819.4 450.6 815.6 452.8 811.9 454.4 812.5 456.9 808.8 458.1 803.1 459.4 804.8 461.9 803.8 464.4 800.6 465.2 798.1 464.0 799.4 467.5 796.2 470.0 792.5 472.5 788.8 473.8 789.8 476.2 788.8 478.8 785.0 480.6 783.8 482.5 783.5 485.0 780.6 487.5 777.5 489.8 775.0 491.9 771.2 492.5 766.2 494.4 760.0 496.5 753.8 498.1 748.8 500.6 743.8 503.1 740.0 503.5 736.0 502.8 733.8 505.6 731.2 506.2 728.1 504.8 729.4 507.5 727.5 510.0 724.4 510.6 720.6 509.0 716.9 506.0 713.8 502.5 710.2 499.4 711.5 502.2 710.6 505.0 709.4 506.2 711.2 508.1 712.5 511.2 711.2 513.8 707.5 516.9 703.8 520.0 701.2 521.9 699.4 526.2 696.9 530.6"/>
<path d="M964.8 422.7 966.0 420.8 968.3 419.0 971.2 416.9 972.7 413.8 974.6 412.7 976.7 412.2 977.5 413.8 977.3 416.0 976.0 417.5 973.3 419.0 970.4 420.2 968.3 422.1 966.7 423.8 965.2 423.8Z"/>
<path d="M985.8 661.5 988.0 660.8 990.0 662.0 992.0 662.5 992.5 660.2 994.0 661.0 994.5 662.8 993.2 663.8 992.0 664.2 991.0 666.0 990.5 668.0 991.0 669.2 990.0 669.0 989.0 667.2 988.0 665.5 987.0 664.0 986.0 663.0Z"/>
<path d="M986.5 666.0 986.2 666.5 985.6 667.0 984.8 667.1 983.9 667.0 983.2 666.5 983.0 666.0 983.2 665.5 983.9 665.0 984.8 664.9 985.6 665.0 986.2 665.5Z"/>
<path d="M989.2 670.8 990.5 670.5 992.0 672.0 992.2 673.5 991.0 673.8 989.8 672.5Z"/>
<path d="M988.2 676.8 989.8 677.2 991.2 679.0 991.8 681.5 990.8 682.0 989.5 680.2 988.5 678.5Z"/>
<path d="M996.6 745.4 997.2 747.2 996.6 749.6 995.6 751.4 994.6 752.8 993.4 753.8 992.6 754.4 993.8 754.6 994.8 755.2 993.8 756.2 992.2 757.2 990.8 758.6 989.4 760.2 988.4 761.6 987.4 761.2 986.8 760.0 987.8 759.0 988.6 757.8 989.2 757.4 988.2 756.8 987.2 756.2 987.4 754.8 986.4 753.4 986.4 752.4 987.4 751.4 988.4 751.6 989.6 752.2 990.8 751.8 990.2 750.4 990.4 749.4 991.8 748.4 993.4 747.6 995.0 746.4Z"/>
<path d="M982.0 763.8 983.0 763.0 985.0 762.6 986.4 763.0 986.8 764.0 986.2 765.4 984.8 765.8 983.2 765.4 982.2 764.6Z"/>
<path d="M983.2 769.0 984.0 768.2 985.2 768.8 985.6 770.4 985.6 772.4 985.2 774.0 984.4 774.6 983.4 773.8 983.0 772.0Z"/>
<path d="M990.2 767.6 991.0 766.6 992.2 766.0 992.6 764.8 993.8 764.4 994.8 763.6 995.4 762.4 996.6 763.2 997.6 764.8 997.8 766.8 997.4 768.8 997.6 770.0 999.0 770.6 1000.6 771.2 1002.6 771.6 1003.6 772.0 1002.6 772.6 1001.4 773.6 1000.2 774.8 999.2 775.8 998.4 775.2 998.2 773.6 998.4 772.4 997.2 772.4 996.0 772.6 995.0 772.0 994.2 770.8 993.8 769.8 992.6 769.4 991.4 769.4 990.4 768.6Z"/>
<path d="M1018.4 744.4 1016.8 745.4 1015.4 744.4 1014.2 744.6 1013.2 745.4 1011.8 744.2 1010.6 743.4 1009.4 744.0 1008.6 745.4 1008.4 747.2 1008.6 748.6 1009.4 749.6 1009.8 750.6 1008.6 750.4 1007.0 750.6 1005.8 751.4 1005.4 753.0 1005.2 754.6 1006.0 755.8 1007.2 756.8 1008.2 758.2 1007.0 758.4 1005.4 758.5 1003.4 758.5 1002.4 759.2 1002.0 760.8 1001.4 762.4 1001.4 763.8 1002.2 764.8 1003.6 765.5 1002.4 765.8 1001.4 766.6 1000.6 767.8 1001.4 769.0 1002.6 770.0 1003.4 771.2 1003.8 772.4 1003.6 774.0 1002.8 775.4 1002.2 776.6 1000.0 778.5 1001.5 779.5 1000.0 781.0 998.0 782.0 999.0 784.0 1000.5 785.5 1003.0 784.5 1005.5 783.0 1007.5 781.5 1006.5 784.5 1005.0 788.0 1004.2 792.0 1003.5 796.5 1003.0 801.0 1002.2 804.5 1001.5 807.5 1002.5 809.5 1004.0 807.5 1004.8 804.0 1005.2 800.0 1006.2 796.5 1007.5 794.0 1009.5 791.5 1008.0 794.5 1007.0 797.0 1008.0 796.0 1010.0 794.0 1012.0 793.5 1011.5 795.5 1014.5 797.5 1012.5 798.0 1012.0 801.0 1013.5 804.0 1013.0 807.5 1011.5 811.0 1010.0 814.0 1008.0 816.0 1009.0 818.5 1010.5 821.0 1013.0 819.5 1016.0 819.0 1019.5 818.0"/>
<path d="M982.0 776.5 983.5 776.2"/>
<path d="M994.0 776.2 996.0 775.8"/>
<path d="M995.5 784.5 997.5 783.0 999.0 784.5 1000.0 786.5 1002.0 787.0 1001.0 789.0 999.0 790.5 997.0 790.0 995.0 790.5 996.5 788.5 996.0 786.5Z"/>
<path d="M993.5 799.5 995.5 798.5 998.0 798.0 1000.0 796.0 1001.5 794.5 1001.2 796.5 1000.0 799.0 998.5 801.5 996.5 804.0 994.8 803.5 995.5 801.5 994.0 801.5Z"/>
<path d="M1006.2 803.5 1007.5 802.5 1008.5 804.5 1008.0 807.0 1006.5 806.5 1006.0 805.0Z"/>
<path d="M991.2 784.5 993.2 783.2 992.8 784.5Z"/>
<path d="M960.0 828.5 962.2 828.6 964.2 830.4 965.8 829.0 968.2 829.1 970.2 830.1 970.8 828.8 970.2 827.2 971.8 825.9 974.0 825.0 975.0 823.8 975.8 822.5 974.5 822.8 972.2 823.1 970.0 822.5 968.2 821.5 970.0 820.0 972.2 818.2 972.5 816.0 973.5 813.5 975.0 812.2 977.0 811.8 978.8 811.5 980.0 810.5 981.0 811.2 981.8 813.5 981.0 815.5 980.5 816.2 981.5 815.9 982.5 814.5 982.2 812.2 982.0 810.8 983.5 809.8 984.2 808.5 985.0 809.0 986.5 810.2 988.0 811.5 989.0 812.2 990.0 812.0 992.0 811.2 994.0 810.8 995.5 811.1 997.2 811.5 998.2 812.5 998.8 814.5 1000.0 816.5 1001.5 818.2 1002.5 819.8 1001.5 821.0 1000.5 822.2 1002.2 821.8 1003.5 822.2 1004.5 823.5 1004.8 825.2 1004.0 826.5 1002.8 825.5 1002.5 827.0 1003.5 827.5 1003.8 829.0 1002.5 829.8 1000.8 830.2 1000.0 831.5 999.2 833.0 997.2 833.8 996.0 834.5 995.0 836.0 995.8 837.5 996.5 839.5 997.2 841.5 997.5 844.0 997.2 846.5 998.0 849.0 998.5 850.0 998.6 852.5 998.2 855.9 997.1 858.4 996.5 861.0 995.7 863.5 994.0 864.8 994.4 866.5 992.7 866.9 990.6 867.1 988.9 866.5 988.4 867.4 985.9 868.2 983.3 868.6 981.6 869.9 979.5 871.6 977.4 872.9 975.7 873.9 974.0 873.3 972.3 872.9 972.7 874.6 970.6 876.3 968.0 877.6 965.5 878.7 962.9 879.3 960.0 879.9 957.4 880.1 958.3 878.8 960.0 877.1 958.3 878.0 956.6 877.1 957.8 875.4 959.5 873.3 957.4 875.4 955.7 877.1 953.2 877.6 953.6 875.9 954.9 873.7 952.7 874.6 950.6 874.2 951.0 872.5 952.7 870.3 954.4 868.6 951.9 868.6 950.2 867.8 952.7 865.7 954.9 865.7 957.0 866.1 955.7 864.0 957.0 862.3 959.1 861.4 962.1 860.8 964.6 860.1 966.8 859.3 967.6 858.3 965.5 857.6 962.9 858.4 960.4 859.3 957.8 860.1 956.1 860.1 958.3 858.4 960.0 856.7 961.2 855.0 962.1 852.9 963.4 851.2 965.5 850.6 966.8 849.3 964.6 848.7 962.1 848.4 960.0 847.4 957.4 847.0 957.0 845.7 955.3 845.7 953.6 844.4 954.0 842.7 955.7 842.7 958.3 842.1 956.6 841.4 957.0 839.3 959.5 838.9 959.1 837.2 957.0 836.8 955.7 835.1 952.7 834.5 956.1 833.8 955.7 831.9 953.6 831.2 954.4 829.5 957.0 828.5 960.4 828.3Z"/>
<path d="M989.0 812.2 988.0 813.0 987.2 814.2 986.0 814.5 985.0 814.0 983.8 815.0 983.2 817.0 982.5 819.0 981.2 820.2 979.2 820.6 977.8 821.2 978.5 822.2 979.5 823.2 979.0 824.2 977.2 824.5 975.5 825.0 975.0 826.5 976.0 827.8 977.5 829.0 978.5 830.4 980.5 831.5 982.5 832.2 984.5 832.0 985.8 830.8 986.2 829.2 985.5 828.5 986.5 827.2 987.5 826.2 988.8 827.0 989.8 828.0 989.5 829.8 991.0 830.5 991.8 832.0 991.5 833.2 993.0 833.4 994.5 833.0 995.8 832.5 997.0 833.2 996.0 834.5"/>
<path d="M1010.5 809.6 1009.3 812.5 1008.0 815.1 1008.0 817.2 1009.7 818.9 1010.5 821.0 1011.4 818.9 1013.1 818.5 1015.2 819.8 1016.9 818.9 1019.0 818.1"/>
<path d="M1012.2 832.5 1013.5 830.0 1015.2 827.4 1016.9 826.6 1017.3 828.3 1016.5 830.8 1014.8 832.8 1013.1 833.6Z"/>
<path d="M1019.0 844.8 1016.1 845.3 1014.4 846.5 1014.8 848.7 1016.5 849.5 1017.8 849.9 1017.3 851.6 1016.1 853.3 1014.4 854.6 1013.1 856.3 1014.4 856.6 1016.1 855.5 1017.8 853.8 1019.0 852.5"/>
<path d="M1019.0 866.5 1015.6 867.8 1012.2 869.3 1009.3 870.8 1007.1 872.5 1007.6 875.0 1009.3 877.1 1011.4 877.6 1013.5 876.3 1015.6 875.4 1017.3 875.9 1019.0 876.7"/>
<path d="M1019.0 885.6 1016.9 887.8 1015.6 889.5"/></g>
<g class="grid" clip-path="url(#mapclip)" shape-rendering="crispEdges"><line x1="297.5" y1="321.5" x2="297.5" y2="890.5"/><line x1="407.5" y1="321.5" x2="407.5" y2="890.5"/><line x1="516.5" y1="321.5" x2="516.5" y2="890.5"/><line x1="626.5" y1="321.5" x2="626.5" y2="890.5"/><line x1="736.5" y1="321.5" x2="736.5" y2="890.5"/><line x1="845.5" y1="321.5" x2="845.5" y2="890.5"/><line x1="955.5" y1="321.5" x2="955.5" y2="890.5"/><line x1="212.5" y1="384.5" x2="1018.5" y2="384.5"/><line x1="212.5" y1="482.5" x2="1018.5" y2="482.5"/><line x1="212.5" y1="568.5" x2="1018.5" y2="568.5"/><line x1="212.5" y1="645.5" x2="1018.5" y2="645.5"/><line x1="212.5" y1="714.5" x2="1018.5" y2="714.5"/><line x1="212.5" y1="777.5" x2="1018.5" y2="777.5"/><line x1="212.5" y1="835.5" x2="1018.5" y2="835.5"/><line x1="212.5" y1="888.5" x2="1018.5" y2="888.5"/></g>
<g stroke="#000" stroke-width="1.6" fill="none" stroke-linecap="butt"><path d="M826.2 606.8H836.8M831.6 599.9V606.8M839.1 600.3L836.6 606.6M824.2 600.5L826.5 606.6M836.6 606.8L840.6 618M826.5 606.8L822.7 618"/><path d="M822.7 618.5H828.9M834.1 618.5H840.7" stroke-width="2.5"/></g>
<rect x="212.5" y="321.5" width="806.0" height="569.0" fill="none" stroke="#000" stroke-width="1" shape-rendering="crispEdges"/>
<text class="c ax" x="297.4" y="310">70°W</text><text class="c ax" x="297.4" y="912">70°W</text>
<text class="c ax" x="407.1" y="310">60°W</text><text class="c ax" x="407.1" y="912">60°W</text>
<text class="c ax" x="516.7" y="310">50°W</text><text class="c ax" x="516.7" y="912">50°W</text>
<text class="c ax" x="626.4" y="310">40°W</text><text class="c ax" x="626.4" y="912">40°W</text>
<text class="c ax" x="736.1" y="310">30°W</text><text class="c ax" x="736.1" y="912">30°W</text>
<text class="c ax" x="845.7" y="310">20°W</text><text class="c ax" x="845.7" y="912">20°W</text>
<text class="c ax" x="955.4" y="310">10°W</text><text class="c ax" x="955.4" y="912">10°W</text>
<text class="r ax" x="205" y="388.9">72°N</text><text class="ax" x="1026.3" y="388.9">72°N</text>
<text class="r ax" x="204" y="487.9">69°N</text><text class="ax" x="1026.3" y="487.9">69°N</text>
<text class="r ax" x="204" y="573.9">66°N</text><text class="ax" x="1026.3" y="573.9">66°N</text>
<text class="r ax" x="204" y="649.9">63°N</text><text class="ax" x="1026.3" y="649.9">63°N</text>
<text class="r ax" x="204" y="718.9">60°N</text><text class="ax" x="1026.3" y="718.9">60°N</text>
<text class="r ax" x="204" y="781.9">57°N</text><text class="ax" x="1026.3" y="781.9">57°N</text>
<text class="r ax" x="204" y="839.9">54°N</text><text class="ax" x="1026.3" y="839.9">54°N</text>
<text class="r ax" x="204" y="893.9">51°N</text><text class="ax" x="1026.3" y="893.9">51°N</text>
<text class="t3" x="60" y="975">© Met Office Crown Copyright</text>
</svg></body></html>
